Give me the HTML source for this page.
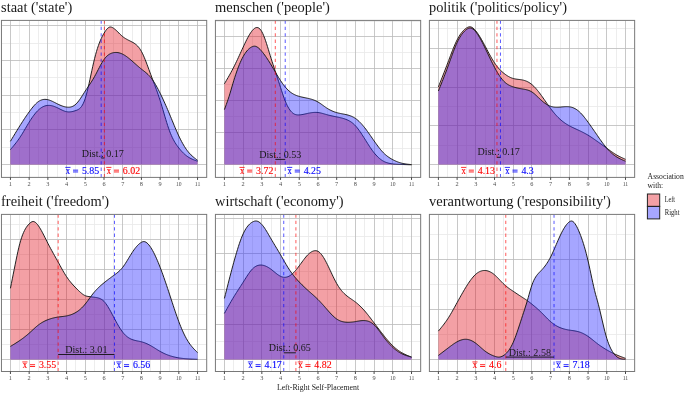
<!DOCTYPE html>
<html><head><meta charset="utf-8"><title>Density plots</title>
<style>
html,body{margin:0;padding:0;background:#fff;}
body{width:685px;height:393px;overflow:hidden;font-family:"Liberation Serif",serif;}
svg{display:block;font-family:"Liberation Serif",serif;will-change:transform;}
.t{font-size:14.6px;fill:#1a1a1a;}
.tk{font-size:6.3px;fill:#4d4d4d;text-anchor:middle;}
.ml{font-size:9.8px;}
.ds{font-size:10.2px;fill:#1a1a1a;text-anchor:middle;}
</style></head><body>
<svg width="685" height="393" viewBox="0 0 685 393">
<rect width="685" height="393" fill="#fff"/>
<g id="staat">
<text class="t" x="1.05" y="12" textLength="71.2" lengthAdjust="spacingAndGlyphs">staat ('state')</text>
<clipPath id="c_staat"><rect x="1.45" y="20.4" width="205.25" height="157"/></clipPath>
<g clip-path="url(#c_staat)">
<path d="M1.45,147.5H206.7M1.45,112.5H206.7M1.45,77.5H206.7M1.45,43.5H206.7M19.5,20.4V177.4M38.5,20.4V177.4M57.5,20.4V177.4M75.5,20.4V177.4M94.5,20.4V177.4M113.5,20.4V177.4M132.5,20.4V177.4M150.5,20.4V177.4M169.5,20.4V177.4M188.5,20.4V177.4" stroke="#e9e9e9" stroke-width="0.8" fill="none"/>
<path d="M1.45,164.5H206.7M1.45,129.5H206.7M1.45,95.5H206.7M1.45,60.5H206.7M1.45,25.5H206.7M10.5,20.4V177.4M29.5,20.4V177.4M47.5,20.4V177.4M66.5,20.4V177.4M85.5,20.4V177.4M104.5,20.4V177.4M122.5,20.4V177.4M141.5,20.4V177.4M160.5,20.4V177.4M178.5,20.4V177.4M197.5,20.4V177.4" stroke="#bababa" stroke-width="0.8" fill="none"/>
<path d="M10.45,149.6 L11.39,148.5 L12.32,147.39 L13.26,146.28 L14.19,145.14 L15.13,143.98 L16.06,142.79 L17,141.56 L17.93,140.29 L18.87,138.97 L19.8,137.6 L20.74,136.17 L21.68,134.69 L22.61,133.16 L23.55,131.61 L24.48,130.03 L25.42,128.45 L26.35,126.86 L27.29,125.29 L28.22,123.73 L29.16,122.2 L30.1,120.71 L31.03,119.27 L31.97,117.87 L32.9,116.53 L33.84,115.25 L34.77,114.03 L35.71,112.88 L36.64,111.81 L37.58,110.81 L38.52,109.9 L39.45,109.08 L40.39,108.34 L41.32,107.69 L42.26,107.12 L43.19,106.64 L44.13,106.23 L45.06,105.91 L46,105.67 L46.93,105.5 L47.87,105.4 L48.81,105.38 L49.74,105.42 L50.68,105.53 L51.61,105.7 L52.55,105.92 L53.48,106.2 L54.42,106.52 L55.35,106.88 L56.29,107.27 L57.23,107.7 L58.16,108.15 L59.1,108.62 L60.03,109.1 L60.97,109.57 L61.9,110.03 L62.84,110.46 L63.77,110.85 L64.71,111.19 L65.64,111.48 L66.58,111.7 L67.52,111.84 L68.45,111.91 L69.39,111.91 L70.32,111.85 L71.26,111.73 L72.19,111.57 L73.13,111.35 L74.06,111.1 L75,110.81 L75.94,110.5 L76.87,110.15 L77.81,109.74 L78.74,109.21 L79.68,108.51 L80.61,107.61 L81.55,106.45 L82.48,104.98 L83.42,103.17 L84.35,100.96 L85.29,98.3 L86.23,95.17 L87.16,91.64 L88.1,87.77 L89.03,83.66 L89.97,79.37 L90.9,75.01 L91.84,70.63 L92.77,66.34 L93.71,62.2 L94.65,58.3 L95.58,54.7 L96.52,51.4 L97.45,48.38 L98.39,45.62 L99.32,43.09 L100.26,40.78 L101.19,38.67 L102.13,36.73 L103.06,34.95 L104,33.3 L104.94,31.77 L105.87,30.4 L106.81,29.2 L107.74,28.23 L108.68,27.52 L109.61,27.1 L110.55,26.99 L111.48,27.16 L112.42,27.55 L113.36,28.1 L114.29,28.77 L115.23,29.53 L116.16,30.36 L117.1,31.25 L118.03,32.17 L118.97,33.1 L119.9,34.03 L120.84,34.94 L121.77,35.8 L122.71,36.6 L123.65,37.33 L124.58,37.98 L125.52,38.58 L126.45,39.12 L127.39,39.63 L128.32,40.12 L129.26,40.59 L130.19,41.05 L131.13,41.52 L132.06,42 L133,42.51 L133.94,43.07 L134.87,43.69 L135.81,44.4 L136.74,45.21 L137.68,46.13 L138.61,47.2 L139.55,48.42 L140.48,49.81 L141.42,51.4 L142.36,53.19 L143.29,55.17 L144.23,57.31 L145.16,59.58 L146.1,61.96 L147.03,64.42 L147.97,66.95 L148.9,69.5 L149.84,72.06 L150.78,74.6 L151.71,77.1 L152.65,79.58 L153.58,82.04 L154.52,84.51 L155.45,87.01 L156.39,89.55 L157.32,92.15 L158.26,94.83 L159.19,97.61 L160.13,100.5 L161.07,103.51 L162,106.62 L162.94,109.79 L163.87,112.99 L164.81,116.18 L165.74,119.33 L166.68,122.4 L167.61,125.36 L168.55,128.17 L169.48,130.8 L170.42,133.22 L171.36,135.45 L172.29,137.49 L173.23,139.37 L174.16,141.09 L175.1,142.68 L176.03,144.15 L176.97,145.51 L177.9,146.79 L178.84,148 L179.78,149.15 L180.71,150.25 L181.65,151.29 L182.58,152.28 L183.52,153.21 L184.45,154.08 L185.39,154.9 L186.32,155.65 L187.26,156.36 L188.19,157 L189.13,157.59 L190.07,158.12 L191,158.61 L191.94,159.05 L192.87,159.46 L193.81,159.85 L194.74,160.21 L195.68,160.55 L196.61,160.88 L197.55,161.2 L197.55,164.6 L10.45,164.6 Z" fill="#E1121E" fill-opacity="0.4" stroke="none"/>
<path d="M10.45,149.6 L11.39,148.5 L12.32,147.39 L13.26,146.28 L14.19,145.14 L15.13,143.98 L16.06,142.79 L17,141.56 L17.93,140.29 L18.87,138.97 L19.8,137.6 L20.74,136.17 L21.68,134.69 L22.61,133.16 L23.55,131.61 L24.48,130.03 L25.42,128.45 L26.35,126.86 L27.29,125.29 L28.22,123.73 L29.16,122.2 L30.1,120.71 L31.03,119.27 L31.97,117.87 L32.9,116.53 L33.84,115.25 L34.77,114.03 L35.71,112.88 L36.64,111.81 L37.58,110.81 L38.52,109.9 L39.45,109.08 L40.39,108.34 L41.32,107.69 L42.26,107.12 L43.19,106.64 L44.13,106.23 L45.06,105.91 L46,105.67 L46.93,105.5 L47.87,105.4 L48.81,105.38 L49.74,105.42 L50.68,105.53 L51.61,105.7 L52.55,105.92 L53.48,106.2 L54.42,106.52 L55.35,106.88 L56.29,107.27 L57.23,107.7 L58.16,108.15 L59.1,108.62 L60.03,109.1 L60.97,109.57 L61.9,110.03 L62.84,110.46 L63.77,110.85 L64.71,111.19 L65.64,111.48 L66.58,111.7 L67.52,111.84 L68.45,111.91 L69.39,111.91 L70.32,111.85 L71.26,111.73 L72.19,111.57 L73.13,111.35 L74.06,111.1 L75,110.81 L75.94,110.5 L76.87,110.15 L77.81,109.74 L78.74,109.21 L79.68,108.51 L80.61,107.61 L81.55,106.45 L82.48,104.98 L83.42,103.17 L84.35,100.96 L85.29,98.3 L86.23,95.17 L87.16,91.64 L88.1,87.77 L89.03,83.66 L89.97,79.37 L90.9,75.01 L91.84,70.63 L92.77,66.34 L93.71,62.2 L94.65,58.3 L95.58,54.7 L96.52,51.4 L97.45,48.38 L98.39,45.62 L99.32,43.09 L100.26,40.78 L101.19,38.67 L102.13,36.73 L103.06,34.95 L104,33.3 L104.94,31.77 L105.87,30.4 L106.81,29.2 L107.74,28.23 L108.68,27.52 L109.61,27.1 L110.55,26.99 L111.48,27.16 L112.42,27.55 L113.36,28.1 L114.29,28.77 L115.23,29.53 L116.16,30.36 L117.1,31.25 L118.03,32.17 L118.97,33.1 L119.9,34.03 L120.84,34.94 L121.77,35.8 L122.71,36.6 L123.65,37.33 L124.58,37.98 L125.52,38.58 L126.45,39.12 L127.39,39.63 L128.32,40.12 L129.26,40.59 L130.19,41.05 L131.13,41.52 L132.06,42 L133,42.51 L133.94,43.07 L134.87,43.69 L135.81,44.4 L136.74,45.21 L137.68,46.13 L138.61,47.2 L139.55,48.42 L140.48,49.81 L141.42,51.4 L142.36,53.19 L143.29,55.17 L144.23,57.31 L145.16,59.58 L146.1,61.96 L147.03,64.42 L147.97,66.95 L148.9,69.5 L149.84,72.06 L150.78,74.6 L151.71,77.1 L152.65,79.58 L153.58,82.04 L154.52,84.51 L155.45,87.01 L156.39,89.55 L157.32,92.15 L158.26,94.83 L159.19,97.61 L160.13,100.5 L161.07,103.51 L162,106.62 L162.94,109.79 L163.87,112.99 L164.81,116.18 L165.74,119.33 L166.68,122.4 L167.61,125.36 L168.55,128.17 L169.48,130.8 L170.42,133.22 L171.36,135.45 L172.29,137.49 L173.23,139.37 L174.16,141.09 L175.1,142.68 L176.03,144.15 L176.97,145.51 L177.9,146.79 L178.84,148 L179.78,149.15 L180.71,150.25 L181.65,151.29 L182.58,152.28 L183.52,153.21 L184.45,154.08 L185.39,154.9 L186.32,155.65 L187.26,156.36 L188.19,157 L189.13,157.59 L190.07,158.12 L191,158.61 L191.94,159.05 L192.87,159.46 L193.81,159.85 L194.74,160.21 L195.68,160.55 L196.61,160.88 L197.55,161.2" fill="none" stroke="#161616" stroke-width="0.95" stroke-linejoin="round"/>
<path d="M10.45,141.3 L11.39,139.74 L12.32,138.17 L13.26,136.61 L14.19,135.06 L15.13,133.51 L16.06,131.96 L17,130.43 L17.93,128.91 L18.87,127.4 L19.8,125.9 L20.74,124.42 L21.68,122.95 L22.61,121.5 L23.55,120.07 L24.48,118.66 L25.42,117.26 L26.35,115.89 L27.29,114.54 L28.22,113.21 L29.16,111.9 L30.1,110.62 L31.03,109.37 L31.97,108.15 L32.9,106.99 L33.84,105.89 L34.77,104.85 L35.71,103.88 L36.64,102.99 L37.58,102.2 L38.52,101.5 L39.45,100.91 L40.39,100.42 L41.32,100.03 L42.26,99.73 L43.19,99.52 L44.13,99.4 L45.06,99.36 L46,99.4 L46.93,99.52 L47.87,99.7 L48.81,99.95 L49.74,100.25 L50.68,100.61 L51.61,101 L52.55,101.43 L53.48,101.89 L54.42,102.36 L55.35,102.84 L56.29,103.32 L57.23,103.8 L58.16,104.26 L59.1,104.7 L60.03,105.12 L60.97,105.52 L61.9,105.88 L62.84,106.21 L63.77,106.5 L64.71,106.75 L65.64,106.95 L66.58,107.1 L67.52,107.2 L68.45,107.23 L69.39,107.19 L70.32,107.07 L71.26,106.85 L72.19,106.54 L73.13,106.12 L74.06,105.58 L75,104.91 L75.94,104.1 L76.87,103.15 L77.81,102.07 L78.74,100.89 L79.68,99.6 L80.61,98.25 L81.55,96.84 L82.48,95.39 L83.42,93.92 L84.35,92.45 L85.29,91 L86.23,89.58 L87.16,88.18 L88.1,86.79 L89.03,85.4 L89.97,83.99 L90.9,82.57 L91.84,81.11 L92.77,79.6 L93.71,78.04 L94.65,76.4 L95.58,74.69 L96.52,72.92 L97.45,71.11 L98.39,69.3 L99.32,67.5 L100.26,65.73 L101.19,64.02 L102.13,62.4 L103.06,60.89 L104,59.5 L104.94,58.26 L105.87,57.17 L106.81,56.22 L107.74,55.39 L108.68,54.69 L109.61,54.1 L110.55,53.61 L111.48,53.22 L112.42,52.92 L113.36,52.7 L114.29,52.55 L115.23,52.47 L116.16,52.46 L117.1,52.51 L118.03,52.64 L118.97,52.82 L119.9,53.07 L120.84,53.39 L121.77,53.76 L122.71,54.2 L123.65,54.69 L124.58,55.24 L125.52,55.84 L126.45,56.48 L127.39,57.16 L128.32,57.88 L129.26,58.63 L130.19,59.4 L131.13,60.19 L132.06,61 L133,61.82 L133.94,62.65 L134.87,63.48 L135.81,64.31 L136.74,65.13 L137.68,65.96 L138.61,66.77 L139.55,67.56 L140.48,68.34 L141.42,69.1 L142.36,69.84 L143.29,70.56 L144.23,71.29 L145.16,72.03 L146.1,72.8 L147.03,73.61 L147.97,74.47 L148.9,75.4 L149.84,76.4 L150.78,77.5 L151.71,78.7 L152.65,80 L153.58,81.39 L154.52,82.87 L155.45,84.42 L156.39,86.05 L157.32,87.75 L158.26,89.52 L159.19,91.33 L160.13,93.2 L161.07,95.11 L162,97.07 L162.94,99.06 L163.87,101.09 L164.81,103.16 L165.74,105.27 L166.68,107.4 L167.61,109.57 L168.55,111.77 L169.48,114 L170.42,116.25 L171.36,118.52 L172.29,120.79 L173.23,123.06 L174.16,125.32 L175.1,127.55 L176.03,129.74 L176.97,131.89 L177.9,133.98 L178.84,136 L179.78,137.95 L180.71,139.82 L181.65,141.61 L182.58,143.32 L183.52,144.95 L184.45,146.49 L185.39,147.95 L186.32,149.32 L187.26,150.6 L188.19,151.8 L189.13,152.91 L190.07,153.93 L191,154.89 L191.94,155.78 L192.87,156.61 L193.81,157.41 L194.74,158.16 L195.68,158.89 L196.61,159.6 L197.55,160.3 L197.55,164.6 L10.45,164.6 Z" fill="#2B2BFF" fill-opacity="0.42" stroke="none"/>
<path d="M10.45,141.3 L11.39,139.74 L12.32,138.17 L13.26,136.61 L14.19,135.06 L15.13,133.51 L16.06,131.96 L17,130.43 L17.93,128.91 L18.87,127.4 L19.8,125.9 L20.74,124.42 L21.68,122.95 L22.61,121.5 L23.55,120.07 L24.48,118.66 L25.42,117.26 L26.35,115.89 L27.29,114.54 L28.22,113.21 L29.16,111.9 L30.1,110.62 L31.03,109.37 L31.97,108.15 L32.9,106.99 L33.84,105.89 L34.77,104.85 L35.71,103.88 L36.64,102.99 L37.58,102.2 L38.52,101.5 L39.45,100.91 L40.39,100.42 L41.32,100.03 L42.26,99.73 L43.19,99.52 L44.13,99.4 L45.06,99.36 L46,99.4 L46.93,99.52 L47.87,99.7 L48.81,99.95 L49.74,100.25 L50.68,100.61 L51.61,101 L52.55,101.43 L53.48,101.89 L54.42,102.36 L55.35,102.84 L56.29,103.32 L57.23,103.8 L58.16,104.26 L59.1,104.7 L60.03,105.12 L60.97,105.52 L61.9,105.88 L62.84,106.21 L63.77,106.5 L64.71,106.75 L65.64,106.95 L66.58,107.1 L67.52,107.2 L68.45,107.23 L69.39,107.19 L70.32,107.07 L71.26,106.85 L72.19,106.54 L73.13,106.12 L74.06,105.58 L75,104.91 L75.94,104.1 L76.87,103.15 L77.81,102.07 L78.74,100.89 L79.68,99.6 L80.61,98.25 L81.55,96.84 L82.48,95.39 L83.42,93.92 L84.35,92.45 L85.29,91 L86.23,89.58 L87.16,88.18 L88.1,86.79 L89.03,85.4 L89.97,83.99 L90.9,82.57 L91.84,81.11 L92.77,79.6 L93.71,78.04 L94.65,76.4 L95.58,74.69 L96.52,72.92 L97.45,71.11 L98.39,69.3 L99.32,67.5 L100.26,65.73 L101.19,64.02 L102.13,62.4 L103.06,60.89 L104,59.5 L104.94,58.26 L105.87,57.17 L106.81,56.22 L107.74,55.39 L108.68,54.69 L109.61,54.1 L110.55,53.61 L111.48,53.22 L112.42,52.92 L113.36,52.7 L114.29,52.55 L115.23,52.47 L116.16,52.46 L117.1,52.51 L118.03,52.64 L118.97,52.82 L119.9,53.07 L120.84,53.39 L121.77,53.76 L122.71,54.2 L123.65,54.69 L124.58,55.24 L125.52,55.84 L126.45,56.48 L127.39,57.16 L128.32,57.88 L129.26,58.63 L130.19,59.4 L131.13,60.19 L132.06,61 L133,61.82 L133.94,62.65 L134.87,63.48 L135.81,64.31 L136.74,65.13 L137.68,65.96 L138.61,66.77 L139.55,67.56 L140.48,68.34 L141.42,69.1 L142.36,69.84 L143.29,70.56 L144.23,71.29 L145.16,72.03 L146.1,72.8 L147.03,73.61 L147.97,74.47 L148.9,75.4 L149.84,76.4 L150.78,77.5 L151.71,78.7 L152.65,80 L153.58,81.39 L154.52,82.87 L155.45,84.42 L156.39,86.05 L157.32,87.75 L158.26,89.52 L159.19,91.33 L160.13,93.2 L161.07,95.11 L162,97.07 L162.94,99.06 L163.87,101.09 L164.81,103.16 L165.74,105.27 L166.68,107.4 L167.61,109.57 L168.55,111.77 L169.48,114 L170.42,116.25 L171.36,118.52 L172.29,120.79 L173.23,123.06 L174.16,125.32 L175.1,127.55 L176.03,129.74 L176.97,131.89 L177.9,133.98 L178.84,136 L179.78,137.95 L180.71,139.82 L181.65,141.61 L182.58,143.32 L183.52,144.95 L184.45,146.49 L185.39,147.95 L186.32,149.32 L187.26,150.6 L188.19,151.8 L189.13,152.91 L190.07,153.93 L191,154.89 L191.94,155.78 L192.87,156.61 L193.81,157.41 L194.74,158.16 L195.68,158.89 L196.61,159.6 L197.55,160.3" fill="none" stroke="#161616" stroke-width="0.95" stroke-linejoin="round"/>
<path d="M104.37,20.4V177.4" stroke="#FF0000" stroke-opacity="0.62" stroke-width="1.05" stroke-dasharray="3.3 3.1" fill="none"/>
<path d="M101.19,20.4V177.4" stroke="#0000FF" stroke-opacity="0.62" stroke-width="1.05" stroke-dasharray="3.3 3.1" fill="none"/>
<path d="M101.19,158H104.37" stroke="#111" stroke-width="0.9" fill="none"/>
<text class="ds" x="102.78" y="156.6" textLength="42.2" lengthAdjust="spacingAndGlyphs">Dist.: 0.17</text>
<g fill="#0000FF" stroke="#0000FF"><text x="65.77" y="173.5" font-size="9.3px" stroke-width="0.12" textLength="4.3" lengthAdjust="spacingAndGlyphs">x</text><path d="M65.32,167.4h5.2" stroke-width="0.8" fill="none"/><path d="M73.02,170.15h5.1M73.02,171.95h5.1" stroke-width="0.85" fill="none"/><text x="81.92" y="173.5" font-size="10.4px" stroke-width="0.12" textLength="17.35" lengthAdjust="spacingAndGlyphs">5.85</text></g>
<g fill="#FF0000" stroke="#FF0000"><text x="106.65" y="173.5" font-size="9.3px" stroke-width="0.12" textLength="4.3" lengthAdjust="spacingAndGlyphs">x</text><path d="M106.2,167.4h5.2" stroke-width="0.8" fill="none"/><path d="M113.9,170.15h5.1M113.9,171.95h5.1" stroke-width="0.85" fill="none"/><text x="122.8" y="173.5" font-size="10.4px" stroke-width="0.12" textLength="17.35" lengthAdjust="spacingAndGlyphs">6.02</text></g>
</g>
<rect x="1.45" y="20.4" width="205.25" height="157" fill="none" stroke="#787878" stroke-width="1"/>
<path d="M10.45,177.4v2.5M29.16,177.4v2.5M47.87,177.4v2.5M66.58,177.4v2.5M85.29,177.4v2.5M104,177.4v2.5M122.71,177.4v2.5M141.42,177.4v2.5M160.13,177.4v2.5M178.84,177.4v2.5M197.55,177.4v2.5" stroke="#333" stroke-width="0.9" fill="none"/>
<text class="tk" x="10.45" y="185.8">1</text>
<text class="tk" x="29.16" y="185.8">2</text>
<text class="tk" x="47.87" y="185.8">3</text>
<text class="tk" x="66.58" y="185.8">4</text>
<text class="tk" x="85.29" y="185.8">5</text>
<text class="tk" x="104" y="185.8">6</text>
<text class="tk" x="122.71" y="185.8">7</text>
<text class="tk" x="141.42" y="185.8">8</text>
<text class="tk" x="160.13" y="185.8">9</text>
<text class="tk" x="178.84" y="185.8" textLength="5.6" lengthAdjust="spacingAndGlyphs">10</text>
<text class="tk" x="197.55" y="185.8" textLength="5.6" lengthAdjust="spacingAndGlyphs">11</text>
</g>
<g id="menschen">
<text class="t" x="215.02" y="12" textLength="114.9" lengthAdjust="spacingAndGlyphs">menschen ('people')</text>
<clipPath id="c_menschen"><rect x="215.42" y="20.4" width="205.25" height="157"/></clipPath>
<g clip-path="url(#c_menschen)">
<path d="M215.42,148.5H420.67M215.42,116.5H420.67M215.42,84.5H420.67M215.42,52.5H420.67M215.42,21.5H420.67M233.5,20.4V177.4M252.5,20.4V177.4M271.5,20.4V177.4M289.5,20.4V177.4M308.5,20.4V177.4M327.5,20.4V177.4M346.5,20.4V177.4M364.5,20.4V177.4M383.5,20.4V177.4M402.5,20.4V177.4" stroke="#e9e9e9" stroke-width="0.8" fill="none"/>
<path d="M215.42,164.5H420.67M215.42,132.5H420.67M215.42,100.5H420.67M215.42,68.5H420.67M215.42,36.5H420.67M224.5,20.4V177.4M243.5,20.4V177.4M261.5,20.4V177.4M280.5,20.4V177.4M299.5,20.4V177.4M317.5,20.4V177.4M336.5,20.4V177.4M355.5,20.4V177.4M374.5,20.4V177.4M392.5,20.4V177.4M411.5,20.4V177.4" stroke="#bababa" stroke-width="0.8" fill="none"/>
<path d="M224.42,83.8 L225.36,82.22 L226.29,80.63 L227.23,79.03 L228.16,77.41 L229.1,75.77 L230.03,74.11 L230.97,72.42 L231.9,70.69 L232.84,68.92 L233.77,67.1 L234.71,65.23 L235.65,63.32 L236.58,61.37 L237.52,59.39 L238.45,57.38 L239.39,55.36 L240.32,53.32 L241.26,51.28 L242.19,49.23 L243.13,47.2 L244.07,45.18 L245,43.2 L245.94,41.26 L246.87,39.38 L247.81,37.58 L248.74,35.87 L249.68,34.27 L250.61,32.8 L251.55,31.47 L252.48,30.3 L253.42,29.3 L254.36,28.5 L255.29,27.92 L256.23,27.58 L257.16,27.5 L258.1,27.71 L259.03,28.22 L259.97,29.05 L260.9,30.2 L261.84,31.7 L262.78,33.54 L263.71,35.69 L264.65,38.11 L265.58,40.75 L266.52,43.56 L267.45,46.5 L268.39,49.54 L269.32,52.61 L270.26,55.68 L271.19,58.7 L272.13,61.64 L273.07,64.52 L274,67.36 L274.94,70.2 L275.87,73.05 L276.81,75.93 L277.74,78.81 L278.68,81.71 L279.61,84.6 L280.55,87.5 L281.49,90.38 L282.42,93.22 L283.36,95.96 L284.29,98.57 L285.23,101 L286.16,103.22 L287.1,105.22 L288.03,107.02 L288.97,108.61 L289.9,110 L290.84,111.2 L291.78,112.2 L292.71,113.03 L293.65,113.7 L294.58,114.2 L295.52,114.55 L296.45,114.78 L297.39,114.9 L298.32,114.93 L299.26,114.9 L300.2,114.83 L301.13,114.71 L302.07,114.57 L303,114.41 L303.94,114.22 L304.87,114.02 L305.81,113.82 L306.74,113.61 L307.68,113.4 L308.62,113.2 L309.55,113.02 L310.49,112.85 L311.42,112.7 L312.36,112.58 L313.29,112.48 L314.23,112.41 L315.16,112.38 L316.1,112.38 L317.03,112.42 L317.97,112.5 L318.91,112.63 L319.84,112.79 L320.78,112.99 L321.71,113.21 L322.65,113.46 L323.58,113.72 L324.52,113.99 L325.45,114.27 L326.39,114.54 L327.32,114.8 L328.26,115.05 L329.2,115.29 L330.13,115.51 L331.07,115.73 L332,115.93 L332.94,116.13 L333.87,116.33 L334.81,116.52 L335.74,116.71 L336.68,116.9 L337.62,117.09 L338.55,117.29 L339.49,117.49 L340.42,117.71 L341.36,117.93 L342.29,118.18 L343.23,118.45 L344.16,118.74 L345.1,119.05 L346.03,119.4 L346.97,119.78 L347.91,120.2 L348.84,120.66 L349.78,121.18 L350.71,121.75 L351.65,122.39 L352.58,123.1 L353.52,123.88 L354.45,124.75 L355.39,125.7 L356.33,126.75 L357.26,127.88 L358.2,129.08 L359.13,130.36 L360.07,131.69 L361,133.07 L361.94,134.49 L362.87,135.94 L363.81,137.41 L364.75,138.9 L365.68,140.39 L366.62,141.88 L367.55,143.35 L368.49,144.81 L369.42,146.25 L370.36,147.65 L371.29,149.01 L372.23,150.33 L373.16,151.6 L374.1,152.8 L375.04,153.94 L375.97,155.01 L376.91,156.02 L377.84,156.95 L378.78,157.83 L379.71,158.63 L380.65,159.37 L381.58,160.05 L382.52,160.66 L383.45,161.2 L384.39,161.68 L385.33,162.1 L386.26,162.46 L387.2,162.78 L388.13,163.05 L389.07,163.28 L390,163.48 L390.94,163.64 L391.87,163.78 L392.81,163.9 L393.75,164 L394.68,164.09 L395.62,164.17 L396.55,164.24 L397.49,164.3 L398.42,164.35 L399.36,164.39 L400.29,164.43 L401.23,164.47 L402.16,164.5 L403.1,164.53 L404.04,164.56 L404.97,164.59 L405.91,164.62 L406.84,164.65 L407.78,164.68 L408.71,164.71 L409.65,164.74 L410.58,164.77 L411.52,164.8 L411.52,164.6 L224.42,164.6 Z" fill="#E1121E" fill-opacity="0.4" stroke="none"/>
<path d="M224.42,83.8 L225.36,82.22 L226.29,80.63 L227.23,79.03 L228.16,77.41 L229.1,75.77 L230.03,74.11 L230.97,72.42 L231.9,70.69 L232.84,68.92 L233.77,67.1 L234.71,65.23 L235.65,63.32 L236.58,61.37 L237.52,59.39 L238.45,57.38 L239.39,55.36 L240.32,53.32 L241.26,51.28 L242.19,49.23 L243.13,47.2 L244.07,45.18 L245,43.2 L245.94,41.26 L246.87,39.38 L247.81,37.58 L248.74,35.87 L249.68,34.27 L250.61,32.8 L251.55,31.47 L252.48,30.3 L253.42,29.3 L254.36,28.5 L255.29,27.92 L256.23,27.58 L257.16,27.5 L258.1,27.71 L259.03,28.22 L259.97,29.05 L260.9,30.2 L261.84,31.7 L262.78,33.54 L263.71,35.69 L264.65,38.11 L265.58,40.75 L266.52,43.56 L267.45,46.5 L268.39,49.54 L269.32,52.61 L270.26,55.68 L271.19,58.7 L272.13,61.64 L273.07,64.52 L274,67.36 L274.94,70.2 L275.87,73.05 L276.81,75.93 L277.74,78.81 L278.68,81.71 L279.61,84.6 L280.55,87.5 L281.49,90.38 L282.42,93.22 L283.36,95.96 L284.29,98.57 L285.23,101 L286.16,103.22 L287.1,105.22 L288.03,107.02 L288.97,108.61 L289.9,110 L290.84,111.2 L291.78,112.2 L292.71,113.03 L293.65,113.7 L294.58,114.2 L295.52,114.55 L296.45,114.78 L297.39,114.9 L298.32,114.93 L299.26,114.9 L300.2,114.83 L301.13,114.71 L302.07,114.57 L303,114.41 L303.94,114.22 L304.87,114.02 L305.81,113.82 L306.74,113.61 L307.68,113.4 L308.62,113.2 L309.55,113.02 L310.49,112.85 L311.42,112.7 L312.36,112.58 L313.29,112.48 L314.23,112.41 L315.16,112.38 L316.1,112.38 L317.03,112.42 L317.97,112.5 L318.91,112.63 L319.84,112.79 L320.78,112.99 L321.71,113.21 L322.65,113.46 L323.58,113.72 L324.52,113.99 L325.45,114.27 L326.39,114.54 L327.32,114.8 L328.26,115.05 L329.2,115.29 L330.13,115.51 L331.07,115.73 L332,115.93 L332.94,116.13 L333.87,116.33 L334.81,116.52 L335.74,116.71 L336.68,116.9 L337.62,117.09 L338.55,117.29 L339.49,117.49 L340.42,117.71 L341.36,117.93 L342.29,118.18 L343.23,118.45 L344.16,118.74 L345.1,119.05 L346.03,119.4 L346.97,119.78 L347.91,120.2 L348.84,120.66 L349.78,121.18 L350.71,121.75 L351.65,122.39 L352.58,123.1 L353.52,123.88 L354.45,124.75 L355.39,125.7 L356.33,126.75 L357.26,127.88 L358.2,129.08 L359.13,130.36 L360.07,131.69 L361,133.07 L361.94,134.49 L362.87,135.94 L363.81,137.41 L364.75,138.9 L365.68,140.39 L366.62,141.88 L367.55,143.35 L368.49,144.81 L369.42,146.25 L370.36,147.65 L371.29,149.01 L372.23,150.33 L373.16,151.6 L374.1,152.8 L375.04,153.94 L375.97,155.01 L376.91,156.02 L377.84,156.95 L378.78,157.83 L379.71,158.63 L380.65,159.37 L381.58,160.05 L382.52,160.66 L383.45,161.2 L384.39,161.68 L385.33,162.1 L386.26,162.46 L387.2,162.78 L388.13,163.05 L389.07,163.28 L390,163.48 L390.94,163.64 L391.87,163.78 L392.81,163.9 L393.75,164 L394.68,164.09 L395.62,164.17 L396.55,164.24 L397.49,164.3 L398.42,164.35 L399.36,164.39 L400.29,164.43 L401.23,164.47 L402.16,164.5 L403.1,164.53 L404.04,164.56 L404.97,164.59 L405.91,164.62 L406.84,164.65 L407.78,164.68 L408.71,164.71 L409.65,164.74 L410.58,164.77 L411.52,164.8" fill="none" stroke="#161616" stroke-width="0.95" stroke-linejoin="round"/>
<path d="M224.42,109.6 L225.36,107.08 L226.29,104.53 L227.23,101.9 L228.16,99.17 L229.1,96.3 L230.03,93.27 L230.97,90.12 L231.9,86.92 L232.84,83.73 L233.77,80.6 L234.71,77.59 L235.65,74.71 L236.58,71.97 L237.52,69.35 L238.45,66.88 L239.39,64.54 L240.32,62.34 L241.26,60.28 L242.19,58.37 L243.13,56.6 L244.07,54.98 L245,53.51 L245.94,52.17 L246.87,50.98 L247.81,49.92 L248.74,49 L249.68,48.21 L250.61,47.55 L251.55,47.01 L252.48,46.6 L253.42,46.31 L254.36,46.18 L255.29,46.25 L256.23,46.53 L257.16,47 L258.1,47.63 L259.03,48.41 L259.97,49.31 L260.9,50.32 L261.84,51.4 L262.78,52.55 L263.71,53.75 L264.65,55 L265.58,56.3 L266.52,57.65 L267.45,59.05 L268.39,60.48 L269.32,61.95 L270.26,63.46 L271.19,65 L272.13,66.57 L273.07,68.16 L274,69.76 L274.94,71.36 L275.87,72.96 L276.81,74.55 L277.74,76.12 L278.68,77.65 L279.61,79.15 L280.55,80.6 L281.49,81.99 L282.42,83.33 L283.36,84.61 L284.29,85.82 L285.23,86.97 L286.16,88.06 L287.1,89.08 L288.03,90.02 L288.97,90.9 L289.9,91.7 L290.84,92.43 L291.78,93.08 L292.71,93.67 L293.65,94.2 L294.58,94.67 L295.52,95.1 L296.45,95.48 L297.39,95.82 L298.32,96.12 L299.26,96.4 L300.2,96.65 L301.13,96.89 L302.07,97.1 L303,97.31 L303.94,97.51 L304.87,97.7 L305.81,97.89 L306.74,98.09 L307.68,98.29 L308.62,98.5 L309.55,98.73 L310.49,98.97 L311.42,99.24 L312.36,99.53 L313.29,99.85 L314.23,100.2 L315.16,100.59 L316.1,101.02 L317.03,101.48 L317.97,102 L318.91,102.56 L319.84,103.17 L320.78,103.8 L321.71,104.46 L322.65,105.13 L323.58,105.81 L324.52,106.48 L325.45,107.15 L326.39,107.79 L327.32,108.4 L328.26,108.98 L329.2,109.51 L330.13,110.01 L331.07,110.48 L332,110.91 L332.94,111.31 L333.87,111.68 L334.81,112.02 L335.74,112.32 L336.68,112.6 L337.62,112.85 L338.55,113.08 L339.49,113.29 L340.42,113.48 L341.36,113.67 L342.29,113.85 L343.23,114.03 L344.16,114.21 L345.1,114.4 L346.03,114.6 L346.97,114.82 L347.91,115.06 L348.84,115.33 L349.78,115.62 L350.71,115.96 L351.65,116.34 L352.58,116.77 L353.52,117.25 L354.45,117.79 L355.39,118.4 L356.33,119.07 L357.26,119.81 L358.2,120.62 L359.13,121.48 L360.07,122.41 L361,123.39 L361.94,124.42 L362.87,125.5 L363.81,126.63 L364.75,127.8 L365.68,129.01 L366.62,130.26 L367.55,131.54 L368.49,132.84 L369.42,134.17 L370.36,135.51 L371.29,136.85 L372.23,138.21 L373.16,139.56 L374.1,140.9 L375.04,142.23 L375.97,143.55 L376.91,144.84 L377.84,146.1 L378.78,147.33 L379.71,148.53 L380.65,149.67 L381.58,150.77 L382.52,151.82 L383.45,152.8 L384.39,153.72 L385.33,154.58 L386.26,155.38 L387.2,156.13 L388.13,156.82 L389.07,157.47 L390,158.08 L390.94,158.66 L391.87,159.19 L392.81,159.7 L393.75,160.18 L394.68,160.63 L395.62,161.06 L396.55,161.46 L397.49,161.84 L398.42,162.19 L399.36,162.51 L400.29,162.8 L401.23,163.06 L402.16,163.3 L403.1,163.51 L404.04,163.69 L404.97,163.86 L405.91,164 L406.84,164.12 L407.78,164.24 L408.71,164.34 L409.65,164.43 L410.58,164.52 L411.52,164.6 L411.52,164.6 L224.42,164.6 Z" fill="#2B2BFF" fill-opacity="0.42" stroke="none"/>
<path d="M224.42,109.6 L225.36,107.08 L226.29,104.53 L227.23,101.9 L228.16,99.17 L229.1,96.3 L230.03,93.27 L230.97,90.12 L231.9,86.92 L232.84,83.73 L233.77,80.6 L234.71,77.59 L235.65,74.71 L236.58,71.97 L237.52,69.35 L238.45,66.88 L239.39,64.54 L240.32,62.34 L241.26,60.28 L242.19,58.37 L243.13,56.6 L244.07,54.98 L245,53.51 L245.94,52.17 L246.87,50.98 L247.81,49.92 L248.74,49 L249.68,48.21 L250.61,47.55 L251.55,47.01 L252.48,46.6 L253.42,46.31 L254.36,46.18 L255.29,46.25 L256.23,46.53 L257.16,47 L258.1,47.63 L259.03,48.41 L259.97,49.31 L260.9,50.32 L261.84,51.4 L262.78,52.55 L263.71,53.75 L264.65,55 L265.58,56.3 L266.52,57.65 L267.45,59.05 L268.39,60.48 L269.32,61.95 L270.26,63.46 L271.19,65 L272.13,66.57 L273.07,68.16 L274,69.76 L274.94,71.36 L275.87,72.96 L276.81,74.55 L277.74,76.12 L278.68,77.65 L279.61,79.15 L280.55,80.6 L281.49,81.99 L282.42,83.33 L283.36,84.61 L284.29,85.82 L285.23,86.97 L286.16,88.06 L287.1,89.08 L288.03,90.02 L288.97,90.9 L289.9,91.7 L290.84,92.43 L291.78,93.08 L292.71,93.67 L293.65,94.2 L294.58,94.67 L295.52,95.1 L296.45,95.48 L297.39,95.82 L298.32,96.12 L299.26,96.4 L300.2,96.65 L301.13,96.89 L302.07,97.1 L303,97.31 L303.94,97.51 L304.87,97.7 L305.81,97.89 L306.74,98.09 L307.68,98.29 L308.62,98.5 L309.55,98.73 L310.49,98.97 L311.42,99.24 L312.36,99.53 L313.29,99.85 L314.23,100.2 L315.16,100.59 L316.1,101.02 L317.03,101.48 L317.97,102 L318.91,102.56 L319.84,103.17 L320.78,103.8 L321.71,104.46 L322.65,105.13 L323.58,105.81 L324.52,106.48 L325.45,107.15 L326.39,107.79 L327.32,108.4 L328.26,108.98 L329.2,109.51 L330.13,110.01 L331.07,110.48 L332,110.91 L332.94,111.31 L333.87,111.68 L334.81,112.02 L335.74,112.32 L336.68,112.6 L337.62,112.85 L338.55,113.08 L339.49,113.29 L340.42,113.48 L341.36,113.67 L342.29,113.85 L343.23,114.03 L344.16,114.21 L345.1,114.4 L346.03,114.6 L346.97,114.82 L347.91,115.06 L348.84,115.33 L349.78,115.62 L350.71,115.96 L351.65,116.34 L352.58,116.77 L353.52,117.25 L354.45,117.79 L355.39,118.4 L356.33,119.07 L357.26,119.81 L358.2,120.62 L359.13,121.48 L360.07,122.41 L361,123.39 L361.94,124.42 L362.87,125.5 L363.81,126.63 L364.75,127.8 L365.68,129.01 L366.62,130.26 L367.55,131.54 L368.49,132.84 L369.42,134.17 L370.36,135.51 L371.29,136.85 L372.23,138.21 L373.16,139.56 L374.1,140.9 L375.04,142.23 L375.97,143.55 L376.91,144.84 L377.84,146.1 L378.78,147.33 L379.71,148.53 L380.65,149.67 L381.58,150.77 L382.52,151.82 L383.45,152.8 L384.39,153.72 L385.33,154.58 L386.26,155.38 L387.2,156.13 L388.13,156.82 L389.07,157.47 L390,158.08 L390.94,158.66 L391.87,159.19 L392.81,159.7 L393.75,160.18 L394.68,160.63 L395.62,161.06 L396.55,161.46 L397.49,161.84 L398.42,162.19 L399.36,162.51 L400.29,162.8 L401.23,163.06 L402.16,163.3 L403.1,163.51 L404.04,163.69 L404.97,163.86 L405.91,164 L406.84,164.12 L407.78,164.24 L408.71,164.34 L409.65,164.43 L410.58,164.52 L411.52,164.6" fill="none" stroke="#161616" stroke-width="0.95" stroke-linejoin="round"/>
<path d="M275.31,20.4V177.4" stroke="#FF0000" stroke-opacity="0.62" stroke-width="1.05" stroke-dasharray="3.3 3.1" fill="none"/>
<path d="M285.23,20.4V177.4" stroke="#0000FF" stroke-opacity="0.62" stroke-width="1.05" stroke-dasharray="3.3 3.1" fill="none"/>
<path d="M275.31,159.4H285.23" stroke="#111" stroke-width="0.9" fill="none"/>
<text class="ds" x="280.27" y="157.8" textLength="42.2" lengthAdjust="spacingAndGlyphs">Dist.: 0.53</text>
<g fill="#FF0000" stroke="#FF0000"><text x="239.89" y="173.5" font-size="9.3px" stroke-width="0.12" textLength="4.3" lengthAdjust="spacingAndGlyphs">x</text><path d="M239.44,167.4h5.2" stroke-width="0.8" fill="none"/><path d="M247.14,170.15h5.1M247.14,171.95h5.1" stroke-width="0.85" fill="none"/><text x="256.04" y="173.5" font-size="10.4px" stroke-width="0.12" textLength="17.35" lengthAdjust="spacingAndGlyphs">3.72</text></g>
<g fill="#0000FF" stroke="#0000FF"><text x="287.5" y="173.5" font-size="9.3px" stroke-width="0.12" textLength="4.3" lengthAdjust="spacingAndGlyphs">x</text><path d="M287.05,167.4h5.2" stroke-width="0.8" fill="none"/><path d="M294.75,170.15h5.1M294.75,171.95h5.1" stroke-width="0.85" fill="none"/><text x="303.65" y="173.5" font-size="10.4px" stroke-width="0.12" textLength="17.35" lengthAdjust="spacingAndGlyphs">4.25</text></g>
</g>
<rect x="215.42" y="20.4" width="205.25" height="157" fill="none" stroke="#787878" stroke-width="1"/>
<path d="M224.42,177.4v2.5M243.13,177.4v2.5M261.84,177.4v2.5M280.55,177.4v2.5M299.26,177.4v2.5M317.97,177.4v2.5M336.68,177.4v2.5M355.39,177.4v2.5M374.1,177.4v2.5M392.81,177.4v2.5M411.52,177.4v2.5" stroke="#333" stroke-width="0.9" fill="none"/>
<text class="tk" x="224.42" y="185.8">1</text>
<text class="tk" x="243.13" y="185.8">2</text>
<text class="tk" x="261.84" y="185.8">3</text>
<text class="tk" x="280.55" y="185.8">4</text>
<text class="tk" x="299.26" y="185.8">5</text>
<text class="tk" x="317.97" y="185.8">6</text>
<text class="tk" x="336.68" y="185.8">7</text>
<text class="tk" x="355.39" y="185.8">8</text>
<text class="tk" x="374.1" y="185.8">9</text>
<text class="tk" x="392.81" y="185.8" textLength="5.6" lengthAdjust="spacingAndGlyphs">10</text>
<text class="tk" x="411.52" y="185.8" textLength="5.6" lengthAdjust="spacingAndGlyphs">11</text>
</g>
<g id="politik">
<text class="t" x="429" y="12" textLength="138" lengthAdjust="spacingAndGlyphs">politik ('politics/policy')</text>
<clipPath id="c_politik"><rect x="429.4" y="20.4" width="205.25" height="157"/></clipPath>
<g clip-path="url(#c_politik)">
<path d="M429.4,145.5H634.65M429.4,106.5H634.65M429.4,67.5H634.65M429.4,28.5H634.65M447.5,20.4V177.4M466.5,20.4V177.4M485.5,20.4V177.4M503.5,20.4V177.4M522.5,20.4V177.4M541.5,20.4V177.4M560.5,20.4V177.4M578.5,20.4V177.4M597.5,20.4V177.4M616.5,20.4V177.4" stroke="#e9e9e9" stroke-width="0.8" fill="none"/>
<path d="M429.4,164.5H634.65M429.4,125.5H634.65M429.4,87.5H634.65M429.4,48.5H634.65M438.5,20.4V177.4M457.5,20.4V177.4M475.5,20.4V177.4M494.5,20.4V177.4M513.5,20.4V177.4M531.5,20.4V177.4M550.5,20.4V177.4M569.5,20.4V177.4M588.5,20.4V177.4M606.5,20.4V177.4M625.5,20.4V177.4" stroke="#bababa" stroke-width="0.8" fill="none"/>
<path d="M438.4,86.9 L439.34,84.54 L440.27,82.17 L441.21,79.8 L442.14,77.42 L443.08,75.03 L444.01,72.64 L444.95,70.23 L445.88,67.8 L446.82,65.36 L447.75,62.9 L448.69,60.42 L449.63,57.94 L450.56,55.46 L451.5,53.02 L452.43,50.62 L453.37,48.29 L454.3,46.03 L455.24,43.87 L456.17,41.82 L457.11,39.9 L458.05,38.12 L458.98,36.49 L459.92,34.99 L460.85,33.62 L461.79,32.39 L462.72,31.28 L463.66,30.29 L464.59,29.41 L465.53,28.65 L466.46,28 L467.4,27.46 L468.34,27.05 L469.27,26.82 L470.21,26.8 L471.14,27.01 L472.08,27.44 L473.01,28.06 L473.95,28.86 L474.88,29.82 L475.82,30.9 L476.76,32.09 L477.69,33.39 L478.63,34.77 L479.56,36.24 L480.5,37.77 L481.43,39.37 L482.37,41.02 L483.3,42.72 L484.24,44.45 L485.17,46.2 L486.11,47.97 L487.05,49.75 L487.98,51.52 L488.92,53.27 L489.85,55 L490.79,56.69 L491.72,58.34 L492.66,59.93 L493.59,61.45 L494.53,62.9 L495.47,64.26 L496.4,65.54 L497.34,66.74 L498.27,67.86 L499.21,68.91 L500.14,69.9 L501.08,70.83 L502.01,71.7 L502.95,72.53 L503.88,73.3 L504.82,74.03 L505.76,74.72 L506.69,75.36 L507.63,75.96 L508.56,76.51 L509.5,77.01 L510.43,77.46 L511.37,77.86 L512.3,78.21 L513.24,78.5 L514.18,78.74 L515.11,78.93 L516.05,79.09 L516.98,79.22 L517.92,79.34 L518.85,79.45 L519.79,79.56 L520.72,79.68 L521.66,79.82 L522.6,80 L523.53,80.22 L524.47,80.48 L525.4,80.79 L526.34,81.15 L527.27,81.57 L528.21,82.04 L529.14,82.58 L530.08,83.18 L531.01,83.85 L531.95,84.6 L532.89,85.42 L533.82,86.31 L534.76,87.27 L535.69,88.29 L536.63,89.36 L537.56,90.49 L538.5,91.66 L539.43,92.87 L540.37,94.12 L541.3,95.4 L542.24,96.7 L543.18,98.03 L544.11,99.36 L545.05,100.71 L545.98,102.05 L546.92,103.39 L547.85,104.73 L548.79,106.04 L549.72,107.33 L550.66,108.6 L551.6,109.83 L552.53,111.03 L553.47,112.19 L554.4,113.31 L555.34,114.4 L556.27,115.44 L557.21,116.45 L558.14,117.41 L559.08,118.33 L560.01,119.2 L560.95,120.03 L561.89,120.81 L562.82,121.55 L563.76,122.26 L564.69,122.92 L565.63,123.56 L566.56,124.16 L567.5,124.73 L568.43,125.28 L569.37,125.8 L570.31,126.3 L571.24,126.78 L572.18,127.25 L573.11,127.7 L574.05,128.14 L574.98,128.58 L575.92,129.01 L576.85,129.44 L577.79,129.87 L578.73,130.3 L579.66,130.74 L580.6,131.19 L581.53,131.64 L582.47,132.11 L583.4,132.59 L584.34,133.08 L585.27,133.59 L586.21,134.11 L587.14,134.64 L588.08,135.2 L589.02,135.77 L589.95,136.37 L590.89,136.97 L591.82,137.6 L592.76,138.23 L593.69,138.87 L594.63,139.52 L595.56,140.18 L596.5,140.84 L597.43,141.5 L598.37,142.16 L599.31,142.83 L600.24,143.49 L601.18,144.16 L602.11,144.82 L603.05,145.49 L603.98,146.16 L604.92,146.84 L605.85,147.52 L606.79,148.2 L607.73,148.89 L608.66,149.57 L609.6,150.26 L610.53,150.94 L611.47,151.61 L612.4,152.26 L613.34,152.91 L614.27,153.53 L615.21,154.13 L616.14,154.7 L617.08,155.24 L618.02,155.76 L618.95,156.26 L619.89,156.73 L620.82,157.18 L621.76,157.63 L622.69,158.05 L623.63,158.47 L624.56,158.89 L625.5,159.3 L625.5,164.6 L438.4,164.6 Z" fill="#E1121E" fill-opacity="0.4" stroke="none"/>
<path d="M438.4,86.9 L439.34,84.54 L440.27,82.17 L441.21,79.8 L442.14,77.42 L443.08,75.03 L444.01,72.64 L444.95,70.23 L445.88,67.8 L446.82,65.36 L447.75,62.9 L448.69,60.42 L449.63,57.94 L450.56,55.46 L451.5,53.02 L452.43,50.62 L453.37,48.29 L454.3,46.03 L455.24,43.87 L456.17,41.82 L457.11,39.9 L458.05,38.12 L458.98,36.49 L459.92,34.99 L460.85,33.62 L461.79,32.39 L462.72,31.28 L463.66,30.29 L464.59,29.41 L465.53,28.65 L466.46,28 L467.4,27.46 L468.34,27.05 L469.27,26.82 L470.21,26.8 L471.14,27.01 L472.08,27.44 L473.01,28.06 L473.95,28.86 L474.88,29.82 L475.82,30.9 L476.76,32.09 L477.69,33.39 L478.63,34.77 L479.56,36.24 L480.5,37.77 L481.43,39.37 L482.37,41.02 L483.3,42.72 L484.24,44.45 L485.17,46.2 L486.11,47.97 L487.05,49.75 L487.98,51.52 L488.92,53.27 L489.85,55 L490.79,56.69 L491.72,58.34 L492.66,59.93 L493.59,61.45 L494.53,62.9 L495.47,64.26 L496.4,65.54 L497.34,66.74 L498.27,67.86 L499.21,68.91 L500.14,69.9 L501.08,70.83 L502.01,71.7 L502.95,72.53 L503.88,73.3 L504.82,74.03 L505.76,74.72 L506.69,75.36 L507.63,75.96 L508.56,76.51 L509.5,77.01 L510.43,77.46 L511.37,77.86 L512.3,78.21 L513.24,78.5 L514.18,78.74 L515.11,78.93 L516.05,79.09 L516.98,79.22 L517.92,79.34 L518.85,79.45 L519.79,79.56 L520.72,79.68 L521.66,79.82 L522.6,80 L523.53,80.22 L524.47,80.48 L525.4,80.79 L526.34,81.15 L527.27,81.57 L528.21,82.04 L529.14,82.58 L530.08,83.18 L531.01,83.85 L531.95,84.6 L532.89,85.42 L533.82,86.31 L534.76,87.27 L535.69,88.29 L536.63,89.36 L537.56,90.49 L538.5,91.66 L539.43,92.87 L540.37,94.12 L541.3,95.4 L542.24,96.7 L543.18,98.03 L544.11,99.36 L545.05,100.71 L545.98,102.05 L546.92,103.39 L547.85,104.73 L548.79,106.04 L549.72,107.33 L550.66,108.6 L551.6,109.83 L552.53,111.03 L553.47,112.19 L554.4,113.31 L555.34,114.4 L556.27,115.44 L557.21,116.45 L558.14,117.41 L559.08,118.33 L560.01,119.2 L560.95,120.03 L561.89,120.81 L562.82,121.55 L563.76,122.26 L564.69,122.92 L565.63,123.56 L566.56,124.16 L567.5,124.73 L568.43,125.28 L569.37,125.8 L570.31,126.3 L571.24,126.78 L572.18,127.25 L573.11,127.7 L574.05,128.14 L574.98,128.58 L575.92,129.01 L576.85,129.44 L577.79,129.87 L578.73,130.3 L579.66,130.74 L580.6,131.19 L581.53,131.64 L582.47,132.11 L583.4,132.59 L584.34,133.08 L585.27,133.59 L586.21,134.11 L587.14,134.64 L588.08,135.2 L589.02,135.77 L589.95,136.37 L590.89,136.97 L591.82,137.6 L592.76,138.23 L593.69,138.87 L594.63,139.52 L595.56,140.18 L596.5,140.84 L597.43,141.5 L598.37,142.16 L599.31,142.83 L600.24,143.49 L601.18,144.16 L602.11,144.82 L603.05,145.49 L603.98,146.16 L604.92,146.84 L605.85,147.52 L606.79,148.2 L607.73,148.89 L608.66,149.57 L609.6,150.26 L610.53,150.94 L611.47,151.61 L612.4,152.26 L613.34,152.91 L614.27,153.53 L615.21,154.13 L616.14,154.7 L617.08,155.24 L618.02,155.76 L618.95,156.26 L619.89,156.73 L620.82,157.18 L621.76,157.63 L622.69,158.05 L623.63,158.47 L624.56,158.89 L625.5,159.3" fill="none" stroke="#161616" stroke-width="0.95" stroke-linejoin="round"/>
<path d="M438.4,91 L439.34,88.67 L440.27,86.34 L441.21,84 L442.14,81.65 L443.08,79.28 L444.01,76.88 L444.95,74.46 L445.88,72.01 L446.82,69.53 L447.75,67 L448.69,64.43 L449.63,61.84 L450.56,59.25 L451.5,56.67 L452.43,54.12 L453.37,51.63 L454.3,49.21 L455.24,46.89 L456.17,44.68 L457.11,42.6 L458.05,40.67 L458.98,38.89 L459.92,37.26 L460.85,35.76 L461.79,34.4 L462.72,33.18 L463.66,32.08 L464.59,31.1 L465.53,30.24 L466.46,29.5 L467.4,28.87 L468.34,28.39 L469.27,28.09 L470.21,28 L471.14,28.15 L472.08,28.52 L473.01,29.1 L473.95,29.87 L474.88,30.81 L475.82,31.9 L476.76,33.12 L477.69,34.46 L478.63,35.91 L479.56,37.46 L480.5,39.09 L481.43,40.8 L482.37,42.58 L483.3,44.41 L484.24,46.29 L485.17,48.2 L486.11,50.14 L487.05,52.09 L487.98,54.05 L488.92,56 L489.85,57.95 L490.79,59.89 L491.72,61.8 L492.66,63.67 L493.59,65.51 L494.53,67.3 L495.47,69.03 L496.4,70.71 L497.34,72.31 L498.27,73.85 L499.21,75.31 L500.14,76.69 L501.08,77.98 L502.01,79.19 L502.95,80.29 L503.88,81.3 L504.82,82.2 L505.76,83.01 L506.69,83.72 L507.63,84.36 L508.56,84.92 L509.5,85.41 L510.43,85.85 L511.37,86.24 L512.3,86.59 L513.24,86.9 L514.18,87.19 L515.11,87.45 L516.05,87.69 L516.98,87.92 L517.92,88.13 L518.85,88.32 L519.79,88.5 L520.72,88.67 L521.66,88.84 L522.6,89 L523.53,89.16 L524.47,89.32 L525.4,89.5 L526.34,89.71 L527.27,89.95 L528.21,90.24 L529.14,90.57 L530.08,90.97 L531.01,91.45 L531.95,92 L532.89,92.64 L533.82,93.36 L534.76,94.14 L535.69,94.97 L536.63,95.84 L537.56,96.74 L538.5,97.64 L539.43,98.55 L540.37,99.44 L541.3,100.3 L542.24,101.12 L543.18,101.9 L544.11,102.64 L545.05,103.32 L545.98,103.96 L546.92,104.54 L547.85,105.07 L548.79,105.54 L549.72,105.95 L550.66,106.3 L551.6,106.59 L552.53,106.81 L553.47,106.99 L554.4,107.11 L555.34,107.19 L556.27,107.23 L557.21,107.23 L558.14,107.21 L559.08,107.17 L560.01,107.1 L560.95,107.02 L561.89,106.93 L562.82,106.85 L563.76,106.77 L564.69,106.7 L565.63,106.65 L566.56,106.63 L567.5,106.65 L568.43,106.7 L569.37,106.8 L570.31,106.95 L571.24,107.16 L572.18,107.43 L573.11,107.76 L574.05,108.16 L574.98,108.62 L575.92,109.15 L576.85,109.76 L577.79,110.44 L578.73,111.2 L579.66,112.04 L580.6,112.96 L581.53,113.94 L582.47,114.99 L583.4,116.09 L584.34,117.24 L585.27,118.43 L586.21,119.66 L587.14,120.92 L588.08,122.2 L589.02,123.5 L589.95,124.81 L590.89,126.14 L591.82,127.47 L592.76,128.82 L593.69,130.17 L594.63,131.52 L595.56,132.88 L596.5,134.24 L597.43,135.6 L598.37,136.95 L599.31,138.3 L600.24,139.63 L601.18,140.95 L602.11,142.24 L603.05,143.51 L603.98,144.74 L604.92,145.94 L605.85,147.09 L606.79,148.2 L607.73,149.26 L608.66,150.27 L609.6,151.23 L610.53,152.13 L611.47,153 L612.4,153.81 L613.34,154.58 L614.27,155.3 L615.21,155.97 L616.14,156.6 L617.08,157.19 L618.02,157.73 L618.95,158.24 L619.89,158.72 L620.82,159.18 L621.76,159.61 L622.69,160.02 L623.63,160.42 L624.56,160.81 L625.5,161.2 L625.5,164.6 L438.4,164.6 Z" fill="#2B2BFF" fill-opacity="0.42" stroke="none"/>
<path d="M438.4,91 L439.34,88.67 L440.27,86.34 L441.21,84 L442.14,81.65 L443.08,79.28 L444.01,76.88 L444.95,74.46 L445.88,72.01 L446.82,69.53 L447.75,67 L448.69,64.43 L449.63,61.84 L450.56,59.25 L451.5,56.67 L452.43,54.12 L453.37,51.63 L454.3,49.21 L455.24,46.89 L456.17,44.68 L457.11,42.6 L458.05,40.67 L458.98,38.89 L459.92,37.26 L460.85,35.76 L461.79,34.4 L462.72,33.18 L463.66,32.08 L464.59,31.1 L465.53,30.24 L466.46,29.5 L467.4,28.87 L468.34,28.39 L469.27,28.09 L470.21,28 L471.14,28.15 L472.08,28.52 L473.01,29.1 L473.95,29.87 L474.88,30.81 L475.82,31.9 L476.76,33.12 L477.69,34.46 L478.63,35.91 L479.56,37.46 L480.5,39.09 L481.43,40.8 L482.37,42.58 L483.3,44.41 L484.24,46.29 L485.17,48.2 L486.11,50.14 L487.05,52.09 L487.98,54.05 L488.92,56 L489.85,57.95 L490.79,59.89 L491.72,61.8 L492.66,63.67 L493.59,65.51 L494.53,67.3 L495.47,69.03 L496.4,70.71 L497.34,72.31 L498.27,73.85 L499.21,75.31 L500.14,76.69 L501.08,77.98 L502.01,79.19 L502.95,80.29 L503.88,81.3 L504.82,82.2 L505.76,83.01 L506.69,83.72 L507.63,84.36 L508.56,84.92 L509.5,85.41 L510.43,85.85 L511.37,86.24 L512.3,86.59 L513.24,86.9 L514.18,87.19 L515.11,87.45 L516.05,87.69 L516.98,87.92 L517.92,88.13 L518.85,88.32 L519.79,88.5 L520.72,88.67 L521.66,88.84 L522.6,89 L523.53,89.16 L524.47,89.32 L525.4,89.5 L526.34,89.71 L527.27,89.95 L528.21,90.24 L529.14,90.57 L530.08,90.97 L531.01,91.45 L531.95,92 L532.89,92.64 L533.82,93.36 L534.76,94.14 L535.69,94.97 L536.63,95.84 L537.56,96.74 L538.5,97.64 L539.43,98.55 L540.37,99.44 L541.3,100.3 L542.24,101.12 L543.18,101.9 L544.11,102.64 L545.05,103.32 L545.98,103.96 L546.92,104.54 L547.85,105.07 L548.79,105.54 L549.72,105.95 L550.66,106.3 L551.6,106.59 L552.53,106.81 L553.47,106.99 L554.4,107.11 L555.34,107.19 L556.27,107.23 L557.21,107.23 L558.14,107.21 L559.08,107.17 L560.01,107.1 L560.95,107.02 L561.89,106.93 L562.82,106.85 L563.76,106.77 L564.69,106.7 L565.63,106.65 L566.56,106.63 L567.5,106.65 L568.43,106.7 L569.37,106.8 L570.31,106.95 L571.24,107.16 L572.18,107.43 L573.11,107.76 L574.05,108.16 L574.98,108.62 L575.92,109.15 L576.85,109.76 L577.79,110.44 L578.73,111.2 L579.66,112.04 L580.6,112.96 L581.53,113.94 L582.47,114.99 L583.4,116.09 L584.34,117.24 L585.27,118.43 L586.21,119.66 L587.14,120.92 L588.08,122.2 L589.02,123.5 L589.95,124.81 L590.89,126.14 L591.82,127.47 L592.76,128.82 L593.69,130.17 L594.63,131.52 L595.56,132.88 L596.5,134.24 L597.43,135.6 L598.37,136.95 L599.31,138.3 L600.24,139.63 L601.18,140.95 L602.11,142.24 L603.05,143.51 L603.98,144.74 L604.92,145.94 L605.85,147.09 L606.79,148.2 L607.73,149.26 L608.66,150.27 L609.6,151.23 L610.53,152.13 L611.47,153 L612.4,153.81 L613.34,154.58 L614.27,155.3 L615.21,155.97 L616.14,156.6 L617.08,157.19 L618.02,157.73 L618.95,158.24 L619.89,158.72 L620.82,159.18 L621.76,159.61 L622.69,160.02 L623.63,160.42 L624.56,160.81 L625.5,161.2" fill="none" stroke="#161616" stroke-width="0.95" stroke-linejoin="round"/>
<path d="M496.96,20.4V177.4" stroke="#FF0000" stroke-opacity="0.62" stroke-width="1.05" stroke-dasharray="3.3 3.1" fill="none"/>
<path d="M500.48,20.4V177.4" stroke="#0000FF" stroke-opacity="0.62" stroke-width="1.05" stroke-dasharray="3.3 3.1" fill="none"/>
<path d="M496.96,157.3H500.48" stroke="#111" stroke-width="0.9" fill="none"/>
<text class="ds" x="498.72" y="155.1" textLength="42.2" lengthAdjust="spacingAndGlyphs">Dist.: 0.17</text>
<g fill="#FF0000" stroke="#FF0000"><text x="461.54" y="173.5" font-size="9.3px" stroke-width="0.12" textLength="4.3" lengthAdjust="spacingAndGlyphs">x</text><path d="M461.09,167.4h5.2" stroke-width="0.8" fill="none"/><path d="M468.79,170.15h5.1M468.79,171.95h5.1" stroke-width="0.85" fill="none"/><text x="477.69" y="173.5" font-size="10.4px" stroke-width="0.12" textLength="17.35" lengthAdjust="spacingAndGlyphs">4.13</text></g>
<g fill="#0000FF" stroke="#0000FF"><text x="505.23" y="173.5" font-size="9.3px" stroke-width="0.12" textLength="4.3" lengthAdjust="spacingAndGlyphs">x</text><path d="M504.78,167.4h5.2" stroke-width="0.8" fill="none"/><path d="M512.48,170.15h5.1M512.48,171.95h5.1" stroke-width="0.85" fill="none"/><text x="521.38" y="173.5" font-size="10.4px" stroke-width="0.12" textLength="12.4" lengthAdjust="spacingAndGlyphs">4.3</text></g>
</g>
<rect x="429.4" y="20.4" width="205.25" height="157" fill="none" stroke="#787878" stroke-width="1"/>
<path d="M438.4,177.4v2.5M457.11,177.4v2.5M475.82,177.4v2.5M494.53,177.4v2.5M513.24,177.4v2.5M531.95,177.4v2.5M550.66,177.4v2.5M569.37,177.4v2.5M588.08,177.4v2.5M606.79,177.4v2.5M625.5,177.4v2.5" stroke="#333" stroke-width="0.9" fill="none"/>
<text class="tk" x="438.4" y="185.8">1</text>
<text class="tk" x="457.11" y="185.8">2</text>
<text class="tk" x="475.82" y="185.8">3</text>
<text class="tk" x="494.53" y="185.8">4</text>
<text class="tk" x="513.24" y="185.8">5</text>
<text class="tk" x="531.95" y="185.8">6</text>
<text class="tk" x="550.66" y="185.8">7</text>
<text class="tk" x="569.37" y="185.8">8</text>
<text class="tk" x="588.08" y="185.8">9</text>
<text class="tk" x="606.79" y="185.8" textLength="5.6" lengthAdjust="spacingAndGlyphs">10</text>
<text class="tk" x="625.5" y="185.8" textLength="5.6" lengthAdjust="spacingAndGlyphs">11</text>
</g>
<g id="freiheit">
<text class="t" x="1.05" y="206" textLength="108.1" lengthAdjust="spacingAndGlyphs">freiheit ('freedom')</text>
<clipPath id="c_freiheit"><rect x="1.45" y="214.4" width="205.25" height="157.1"/></clipPath>
<g clip-path="url(#c_freiheit)">
<path d="M1.45,344.5H206.7M1.45,314.5H206.7M1.45,284.5H206.7M1.45,254.5H206.7M1.45,224.5H206.7M19.5,214.4V371.5M38.5,214.4V371.5M57.5,214.4V371.5M75.5,214.4V371.5M94.5,214.4V371.5M113.5,214.4V371.5M132.5,214.4V371.5M150.5,214.4V371.5M169.5,214.4V371.5M188.5,214.4V371.5" stroke="#e9e9e9" stroke-width="0.8" fill="none"/>
<path d="M1.45,359.5H206.7M1.45,329.5H206.7M1.45,299.5H206.7M1.45,269.5H206.7M1.45,239.5H206.7M10.5,214.4V371.5M29.5,214.4V371.5M47.5,214.4V371.5M66.5,214.4V371.5M85.5,214.4V371.5M104.5,214.4V371.5M122.5,214.4V371.5M141.5,214.4V371.5M160.5,214.4V371.5M178.5,214.4V371.5M197.5,214.4V371.5" stroke="#bababa" stroke-width="0.8" fill="none"/>
<path d="M10.45,288.3 L11.39,283.57 L12.32,278.85 L13.26,274.15 L14.19,269.46 L15.13,264.8 L16.06,260.19 L17,255.68 L17.93,251.37 L18.87,247.31 L19.8,243.6 L20.74,240.28 L21.68,237.35 L22.61,234.77 L23.55,232.52 L24.48,230.55 L25.42,228.83 L26.35,227.34 L27.29,226.05 L28.22,224.91 L29.16,223.9 L30.1,223 L31.03,222.26 L31.97,221.74 L32.9,221.5 L33.84,221.58 L34.77,221.97 L35.71,222.62 L36.64,223.52 L37.58,224.62 L38.52,225.9 L39.45,227.32 L40.39,228.85 L41.32,230.49 L42.26,232.22 L43.19,234.01 L44.13,235.84 L45.06,237.71 L46,239.59 L46.93,241.46 L47.87,243.3 L48.81,245.1 L49.74,246.87 L50.68,248.61 L51.61,250.32 L52.55,252.01 L53.48,253.69 L54.42,255.36 L55.35,257.03 L56.29,258.71 L57.23,260.4 L58.16,262.1 L59.1,263.82 L60.03,265.53 L60.97,267.23 L61.9,268.91 L62.84,270.57 L63.77,272.18 L64.71,273.75 L65.64,275.26 L66.58,276.7 L67.52,278.07 L68.45,279.37 L69.39,280.6 L70.32,281.78 L71.26,282.91 L72.19,283.99 L73.13,285.04 L74.06,286.05 L75,287.03 L75.94,288 L76.87,288.95 L77.81,289.88 L78.74,290.79 L79.68,291.66 L80.61,292.5 L81.55,293.29 L82.48,294.02 L83.42,294.68 L84.35,295.24 L85.29,295.7 L86.23,296.04 L87.16,296.29 L88.1,296.46 L89.03,296.59 L89.97,296.7 L90.9,296.81 L91.84,296.93 L92.77,297.05 L93.71,297.17 L94.65,297.3 L95.58,297.43 L96.52,297.58 L97.45,297.77 L98.39,298 L99.32,298.3 L100.26,298.69 L101.19,299.18 L102.13,299.78 L103.06,300.51 L104,301.4 L104.94,302.45 L105.87,303.64 L106.81,304.97 L107.74,306.41 L108.68,307.94 L109.61,309.56 L110.55,311.24 L111.48,312.97 L112.42,314.73 L113.36,316.5 L114.29,318.27 L115.23,320.02 L116.16,321.74 L117.1,323.43 L118.03,325.07 L118.97,326.66 L119.9,328.17 L120.84,329.61 L121.77,330.95 L122.71,332.2 L123.65,333.34 L124.58,334.37 L125.52,335.3 L126.45,336.14 L127.39,336.89 L128.32,337.55 L129.26,338.14 L130.19,338.66 L131.13,339.11 L132.06,339.5 L133,339.84 L133.94,340.12 L134.87,340.37 L135.81,340.6 L136.74,340.8 L137.68,340.99 L138.61,341.17 L139.55,341.37 L140.48,341.57 L141.42,341.8 L142.36,342.06 L143.29,342.35 L144.23,342.67 L145.16,343.02 L146.1,343.4 L147.03,343.8 L147.97,344.24 L148.9,344.7 L149.84,345.19 L150.78,345.7 L151.71,346.24 L152.65,346.8 L153.58,347.37 L154.52,347.95 L155.45,348.54 L156.39,349.13 L157.32,349.72 L158.26,350.29 L159.19,350.86 L160.13,351.4 L161.07,351.92 L162,352.42 L162.94,352.89 L163.87,353.34 L164.81,353.77 L165.74,354.18 L166.68,354.56 L167.61,354.93 L168.55,355.27 L169.48,355.6 L170.42,355.91 L171.36,356.19 L172.29,356.46 L173.23,356.72 L174.16,356.95 L175.1,357.17 L176.03,357.38 L176.97,357.57 L177.9,357.74 L178.84,357.9 L179.78,358.05 L180.71,358.18 L181.65,358.3 L182.58,358.42 L183.52,358.52 L184.45,358.61 L185.39,358.69 L186.32,358.77 L187.26,358.84 L188.19,358.9 L189.13,358.96 L190.07,359.01 L191,359.05 L191.94,359.1 L192.87,359.14 L193.81,359.17 L194.74,359.21 L195.68,359.24 L196.61,359.27 L197.55,359.3 L197.55,359.6 L10.45,359.6 Z" fill="#E1121E" fill-opacity="0.4" stroke="none"/>
<path d="M10.45,288.3 L11.39,283.57 L12.32,278.85 L13.26,274.15 L14.19,269.46 L15.13,264.8 L16.06,260.19 L17,255.68 L17.93,251.37 L18.87,247.31 L19.8,243.6 L20.74,240.28 L21.68,237.35 L22.61,234.77 L23.55,232.52 L24.48,230.55 L25.42,228.83 L26.35,227.34 L27.29,226.05 L28.22,224.91 L29.16,223.9 L30.1,223 L31.03,222.26 L31.97,221.74 L32.9,221.5 L33.84,221.58 L34.77,221.97 L35.71,222.62 L36.64,223.52 L37.58,224.62 L38.52,225.9 L39.45,227.32 L40.39,228.85 L41.32,230.49 L42.26,232.22 L43.19,234.01 L44.13,235.84 L45.06,237.71 L46,239.59 L46.93,241.46 L47.87,243.3 L48.81,245.1 L49.74,246.87 L50.68,248.61 L51.61,250.32 L52.55,252.01 L53.48,253.69 L54.42,255.36 L55.35,257.03 L56.29,258.71 L57.23,260.4 L58.16,262.1 L59.1,263.82 L60.03,265.53 L60.97,267.23 L61.9,268.91 L62.84,270.57 L63.77,272.18 L64.71,273.75 L65.64,275.26 L66.58,276.7 L67.52,278.07 L68.45,279.37 L69.39,280.6 L70.32,281.78 L71.26,282.91 L72.19,283.99 L73.13,285.04 L74.06,286.05 L75,287.03 L75.94,288 L76.87,288.95 L77.81,289.88 L78.74,290.79 L79.68,291.66 L80.61,292.5 L81.55,293.29 L82.48,294.02 L83.42,294.68 L84.35,295.24 L85.29,295.7 L86.23,296.04 L87.16,296.29 L88.1,296.46 L89.03,296.59 L89.97,296.7 L90.9,296.81 L91.84,296.93 L92.77,297.05 L93.71,297.17 L94.65,297.3 L95.58,297.43 L96.52,297.58 L97.45,297.77 L98.39,298 L99.32,298.3 L100.26,298.69 L101.19,299.18 L102.13,299.78 L103.06,300.51 L104,301.4 L104.94,302.45 L105.87,303.64 L106.81,304.97 L107.74,306.41 L108.68,307.94 L109.61,309.56 L110.55,311.24 L111.48,312.97 L112.42,314.73 L113.36,316.5 L114.29,318.27 L115.23,320.02 L116.16,321.74 L117.1,323.43 L118.03,325.07 L118.97,326.66 L119.9,328.17 L120.84,329.61 L121.77,330.95 L122.71,332.2 L123.65,333.34 L124.58,334.37 L125.52,335.3 L126.45,336.14 L127.39,336.89 L128.32,337.55 L129.26,338.14 L130.19,338.66 L131.13,339.11 L132.06,339.5 L133,339.84 L133.94,340.12 L134.87,340.37 L135.81,340.6 L136.74,340.8 L137.68,340.99 L138.61,341.17 L139.55,341.37 L140.48,341.57 L141.42,341.8 L142.36,342.06 L143.29,342.35 L144.23,342.67 L145.16,343.02 L146.1,343.4 L147.03,343.8 L147.97,344.24 L148.9,344.7 L149.84,345.19 L150.78,345.7 L151.71,346.24 L152.65,346.8 L153.58,347.37 L154.52,347.95 L155.45,348.54 L156.39,349.13 L157.32,349.72 L158.26,350.29 L159.19,350.86 L160.13,351.4 L161.07,351.92 L162,352.42 L162.94,352.89 L163.87,353.34 L164.81,353.77 L165.74,354.18 L166.68,354.56 L167.61,354.93 L168.55,355.27 L169.48,355.6 L170.42,355.91 L171.36,356.19 L172.29,356.46 L173.23,356.72 L174.16,356.95 L175.1,357.17 L176.03,357.38 L176.97,357.57 L177.9,357.74 L178.84,357.9 L179.78,358.05 L180.71,358.18 L181.65,358.3 L182.58,358.42 L183.52,358.52 L184.45,358.61 L185.39,358.69 L186.32,358.77 L187.26,358.84 L188.19,358.9 L189.13,358.96 L190.07,359.01 L191,359.05 L191.94,359.1 L192.87,359.14 L193.81,359.17 L194.74,359.21 L195.68,359.24 L196.61,359.27 L197.55,359.3" fill="none" stroke="#161616" stroke-width="0.95" stroke-linejoin="round"/>
<path d="M10.45,346.4 L11.39,345.84 L12.32,345.27 L13.26,344.7 L14.19,344.13 L15.13,343.55 L16.06,342.96 L17,342.36 L17.93,341.75 L18.87,341.13 L19.8,340.5 L20.74,339.85 L21.68,339.19 L22.61,338.5 L23.55,337.81 L24.48,337.09 L25.42,336.35 L26.35,335.59 L27.29,334.82 L28.22,334.02 L29.16,333.2 L30.1,332.36 L31.03,331.5 L31.97,330.64 L32.9,329.77 L33.84,328.9 L34.77,328.05 L35.71,327.22 L36.64,326.41 L37.58,325.64 L38.52,324.9 L39.45,324.21 L40.39,323.56 L41.32,322.95 L42.26,322.39 L43.19,321.86 L44.13,321.37 L45.06,320.91 L46,320.48 L46.93,320.07 L47.87,319.7 L48.81,319.35 L49.74,319.02 L50.68,318.72 L51.61,318.44 L52.55,318.18 L53.48,317.95 L54.42,317.73 L55.35,317.53 L56.29,317.36 L57.23,317.2 L58.16,317.06 L59.1,316.93 L60.03,316.82 L60.97,316.7 L61.9,316.59 L62.84,316.48 L63.77,316.36 L64.71,316.22 L65.64,316.07 L66.58,315.9 L67.52,315.7 L68.45,315.48 L69.39,315.22 L70.32,314.94 L71.26,314.62 L72.19,314.26 L73.13,313.86 L74.06,313.42 L75,312.93 L75.94,312.4 L76.87,311.82 L77.81,311.19 L78.74,310.5 L79.68,309.76 L80.61,308.95 L81.55,308.09 L82.48,307.17 L83.42,306.18 L84.35,305.12 L85.29,304 L86.23,302.81 L87.16,301.56 L88.1,300.28 L89.03,298.99 L89.97,297.7 L90.9,296.43 L91.84,295.19 L92.77,293.98 L93.71,292.82 L94.65,291.7 L95.58,290.64 L96.52,289.62 L97.45,288.65 L98.39,287.72 L99.32,286.83 L100.26,285.98 L101.19,285.15 L102.13,284.35 L103.06,283.57 L104,282.8 L104.94,282.05 L105.87,281.31 L106.81,280.58 L107.74,279.86 L108.68,279.14 L109.61,278.44 L110.55,277.75 L111.48,277.06 L112.42,276.38 L113.36,275.7 L114.29,275.03 L115.23,274.35 L116.16,273.65 L117.1,272.92 L118.03,272.15 L118.97,271.33 L119.9,270.45 L120.84,269.49 L121.77,268.44 L122.71,267.3 L123.65,266.05 L124.58,264.71 L125.52,263.3 L126.45,261.83 L127.39,260.31 L128.32,258.77 L129.26,257.23 L130.19,255.69 L131.13,254.17 L132.06,252.7 L133,251.28 L133.94,249.93 L134.87,248.66 L135.81,247.46 L136.74,246.34 L137.68,245.32 L138.61,244.4 L139.55,243.59 L140.48,242.88 L141.42,242.3 L142.36,241.85 L143.29,241.6 L144.23,241.59 L145.16,241.83 L146.1,242.3 L147.03,242.98 L147.97,243.86 L148.9,244.92 L149.84,246.13 L150.78,247.5 L151.71,249 L152.65,250.62 L153.58,252.36 L154.52,254.21 L155.45,256.16 L156.39,258.22 L157.32,260.36 L158.26,262.6 L159.19,264.91 L160.13,267.3 L161.07,269.76 L162,272.28 L162.94,274.85 L163.87,277.48 L164.81,280.16 L165.74,282.88 L166.68,285.64 L167.61,288.44 L168.55,291.26 L169.48,294.1 L170.42,296.96 L171.36,299.83 L172.29,302.69 L173.23,305.54 L174.16,308.36 L175.1,311.15 L176.03,313.89 L176.97,316.57 L177.9,319.17 L178.84,321.7 L179.78,324.14 L180.71,326.48 L181.65,328.72 L182.58,330.87 L183.52,332.92 L184.45,334.86 L185.39,336.71 L186.32,338.45 L187.26,340.08 L188.19,341.6 L189.13,343.01 L190.07,344.33 L191,345.56 L191.94,346.71 L192.87,347.79 L193.81,348.82 L194.74,349.8 L195.68,350.75 L196.61,351.68 L197.55,352.6 L197.55,359.6 L10.45,359.6 Z" fill="#2B2BFF" fill-opacity="0.42" stroke="none"/>
<path d="M10.45,346.4 L11.39,345.84 L12.32,345.27 L13.26,344.7 L14.19,344.13 L15.13,343.55 L16.06,342.96 L17,342.36 L17.93,341.75 L18.87,341.13 L19.8,340.5 L20.74,339.85 L21.68,339.19 L22.61,338.5 L23.55,337.81 L24.48,337.09 L25.42,336.35 L26.35,335.59 L27.29,334.82 L28.22,334.02 L29.16,333.2 L30.1,332.36 L31.03,331.5 L31.97,330.64 L32.9,329.77 L33.84,328.9 L34.77,328.05 L35.71,327.22 L36.64,326.41 L37.58,325.64 L38.52,324.9 L39.45,324.21 L40.39,323.56 L41.32,322.95 L42.26,322.39 L43.19,321.86 L44.13,321.37 L45.06,320.91 L46,320.48 L46.93,320.07 L47.87,319.7 L48.81,319.35 L49.74,319.02 L50.68,318.72 L51.61,318.44 L52.55,318.18 L53.48,317.95 L54.42,317.73 L55.35,317.53 L56.29,317.36 L57.23,317.2 L58.16,317.06 L59.1,316.93 L60.03,316.82 L60.97,316.7 L61.9,316.59 L62.84,316.48 L63.77,316.36 L64.71,316.22 L65.64,316.07 L66.58,315.9 L67.52,315.7 L68.45,315.48 L69.39,315.22 L70.32,314.94 L71.26,314.62 L72.19,314.26 L73.13,313.86 L74.06,313.42 L75,312.93 L75.94,312.4 L76.87,311.82 L77.81,311.19 L78.74,310.5 L79.68,309.76 L80.61,308.95 L81.55,308.09 L82.48,307.17 L83.42,306.18 L84.35,305.12 L85.29,304 L86.23,302.81 L87.16,301.56 L88.1,300.28 L89.03,298.99 L89.97,297.7 L90.9,296.43 L91.84,295.19 L92.77,293.98 L93.71,292.82 L94.65,291.7 L95.58,290.64 L96.52,289.62 L97.45,288.65 L98.39,287.72 L99.32,286.83 L100.26,285.98 L101.19,285.15 L102.13,284.35 L103.06,283.57 L104,282.8 L104.94,282.05 L105.87,281.31 L106.81,280.58 L107.74,279.86 L108.68,279.14 L109.61,278.44 L110.55,277.75 L111.48,277.06 L112.42,276.38 L113.36,275.7 L114.29,275.03 L115.23,274.35 L116.16,273.65 L117.1,272.92 L118.03,272.15 L118.97,271.33 L119.9,270.45 L120.84,269.49 L121.77,268.44 L122.71,267.3 L123.65,266.05 L124.58,264.71 L125.52,263.3 L126.45,261.83 L127.39,260.31 L128.32,258.77 L129.26,257.23 L130.19,255.69 L131.13,254.17 L132.06,252.7 L133,251.28 L133.94,249.93 L134.87,248.66 L135.81,247.46 L136.74,246.34 L137.68,245.32 L138.61,244.4 L139.55,243.59 L140.48,242.88 L141.42,242.3 L142.36,241.85 L143.29,241.6 L144.23,241.59 L145.16,241.83 L146.1,242.3 L147.03,242.98 L147.97,243.86 L148.9,244.92 L149.84,246.13 L150.78,247.5 L151.71,249 L152.65,250.62 L153.58,252.36 L154.52,254.21 L155.45,256.16 L156.39,258.22 L157.32,260.36 L158.26,262.6 L159.19,264.91 L160.13,267.3 L161.07,269.76 L162,272.28 L162.94,274.85 L163.87,277.48 L164.81,280.16 L165.74,282.88 L166.68,285.64 L167.61,288.44 L168.55,291.26 L169.48,294.1 L170.42,296.96 L171.36,299.83 L172.29,302.69 L173.23,305.54 L174.16,308.36 L175.1,311.15 L176.03,313.89 L176.97,316.57 L177.9,319.17 L178.84,321.7 L179.78,324.14 L180.71,326.48 L181.65,328.72 L182.58,330.87 L183.52,332.92 L184.45,334.86 L185.39,336.71 L186.32,338.45 L187.26,340.08 L188.19,341.6 L189.13,343.01 L190.07,344.33 L191,345.56 L191.94,346.71 L192.87,347.79 L193.81,348.82 L194.74,349.8 L195.68,350.75 L196.61,351.68 L197.55,352.6" fill="none" stroke="#161616" stroke-width="0.95" stroke-linejoin="round"/>
<path d="M58.16,214.4V371.5" stroke="#FF0000" stroke-opacity="0.62" stroke-width="1.05" stroke-dasharray="3.3 3.1" fill="none"/>
<path d="M114.48,214.4V371.5" stroke="#0000FF" stroke-opacity="0.62" stroke-width="1.05" stroke-dasharray="3.3 3.1" fill="none"/>
<path d="M58.16,354.5H114.48" stroke="#111" stroke-width="0.9" fill="none"/>
<text class="ds" x="86.32" y="353.4" textLength="42.2" lengthAdjust="spacingAndGlyphs">Dist.: 3.01</text>
<g fill="#FF0000" stroke="#FF0000"><text x="22.74" y="368.05" font-size="9.3px" stroke-width="0.12" textLength="4.3" lengthAdjust="spacingAndGlyphs">x</text><path d="M22.29,361.95h5.2" stroke-width="0.8" fill="none"/><path d="M29.99,364.7h5.1M29.99,366.5h5.1" stroke-width="0.85" fill="none"/><text x="38.89" y="368.05" font-size="10.4px" stroke-width="0.12" textLength="17.35" lengthAdjust="spacingAndGlyphs">3.55</text></g>
<g fill="#0000FF" stroke="#0000FF"><text x="116.75" y="368.05" font-size="9.3px" stroke-width="0.12" textLength="4.3" lengthAdjust="spacingAndGlyphs">x</text><path d="M116.3,361.95h5.2" stroke-width="0.8" fill="none"/><path d="M124,364.7h5.1M124,366.5h5.1" stroke-width="0.85" fill="none"/><text x="132.9" y="368.05" font-size="10.4px" stroke-width="0.12" textLength="17.35" lengthAdjust="spacingAndGlyphs">6.56</text></g>
</g>
<rect x="1.45" y="214.4" width="205.25" height="157.1" fill="none" stroke="#787878" stroke-width="1"/>
<path d="M10.45,371.5v2.5M29.16,371.5v2.5M47.87,371.5v2.5M66.58,371.5v2.5M85.29,371.5v2.5M104,371.5v2.5M122.71,371.5v2.5M141.42,371.5v2.5M160.13,371.5v2.5M178.84,371.5v2.5M197.55,371.5v2.5" stroke="#333" stroke-width="0.9" fill="none"/>
<text class="tk" x="10.45" y="379.9">1</text>
<text class="tk" x="29.16" y="379.9">2</text>
<text class="tk" x="47.87" y="379.9">3</text>
<text class="tk" x="66.58" y="379.9">4</text>
<text class="tk" x="85.29" y="379.9">5</text>
<text class="tk" x="104" y="379.9">6</text>
<text class="tk" x="122.71" y="379.9">7</text>
<text class="tk" x="141.42" y="379.9">8</text>
<text class="tk" x="160.13" y="379.9">9</text>
<text class="tk" x="178.84" y="379.9" textLength="5.6" lengthAdjust="spacingAndGlyphs">10</text>
<text class="tk" x="197.55" y="379.9" textLength="5.6" lengthAdjust="spacingAndGlyphs">11</text>
</g>
<g id="wirtschaft">
<text class="t" x="215.02" y="206" textLength="128.6" lengthAdjust="spacingAndGlyphs">wirtschaft ('economy')</text>
<clipPath id="c_wirtschaft"><rect x="215.42" y="214.4" width="205.25" height="157.1"/></clipPath>
<g clip-path="url(#c_wirtschaft)">
<path d="M215.42,341.5H420.67M215.42,306.5H420.67M215.42,271.5H420.67M215.42,236.5H420.67M233.5,214.4V371.5M252.5,214.4V371.5M271.5,214.4V371.5M289.5,214.4V371.5M308.5,214.4V371.5M327.5,214.4V371.5M346.5,214.4V371.5M364.5,214.4V371.5M383.5,214.4V371.5M402.5,214.4V371.5" stroke="#e9e9e9" stroke-width="0.8" fill="none"/>
<path d="M215.42,359.5H420.67M215.42,324.5H420.67M215.42,289.5H420.67M215.42,253.5H420.67M215.42,218.5H420.67M224.5,214.4V371.5M243.5,214.4V371.5M261.5,214.4V371.5M280.5,214.4V371.5M299.5,214.4V371.5M317.5,214.4V371.5M336.5,214.4V371.5M355.5,214.4V371.5M374.5,214.4V371.5M392.5,214.4V371.5M411.5,214.4V371.5" stroke="#bababa" stroke-width="0.8" fill="none"/>
<path d="M224.42,313.4 L225.36,311.69 L226.29,309.99 L227.23,308.29 L228.16,306.61 L229.1,304.94 L230.03,303.28 L230.97,301.65 L231.9,300.04 L232.84,298.45 L233.77,296.9 L234.71,295.38 L235.65,293.89 L236.58,292.42 L237.52,290.97 L238.45,289.53 L239.39,288.1 L240.32,286.66 L241.26,285.22 L242.19,283.77 L243.13,282.3 L244.07,280.81 L245,279.31 L245.94,277.83 L246.87,276.36 L247.81,274.93 L248.74,273.56 L249.68,272.25 L250.61,271.03 L251.55,269.91 L252.48,268.9 L253.42,268.02 L254.36,267.26 L255.29,266.63 L256.23,266.11 L257.16,265.7 L258.1,265.39 L259.03,265.18 L259.97,265.07 L260.9,265.04 L261.84,265.1 L262.78,265.24 L263.71,265.45 L264.65,265.73 L265.58,266.08 L266.52,266.49 L267.45,266.97 L268.39,267.5 L269.32,268.08 L270.26,268.72 L271.19,269.4 L272.13,270.12 L273.07,270.88 L274,271.64 L274.94,272.41 L275.87,273.17 L276.81,273.9 L277.74,274.6 L278.68,275.24 L279.61,275.81 L280.55,276.3 L281.49,276.7 L282.42,277 L283.36,277.2 L284.29,277.3 L285.23,277.3 L286.16,277.19 L287.1,276.98 L288.03,276.66 L288.97,276.23 L289.9,275.7 L290.84,275.06 L291.78,274.32 L292.71,273.5 L293.65,272.58 L294.58,271.6 L295.52,270.54 L296.45,269.43 L297.39,268.26 L298.32,267.05 L299.26,265.8 L300.2,264.53 L301.13,263.24 L302.07,261.95 L303,260.67 L303.94,259.41 L304.87,258.2 L305.81,257.04 L306.74,255.94 L307.68,254.92 L308.62,254 L309.55,253.18 L310.49,252.47 L311.42,251.88 L312.36,251.4 L313.29,251.04 L314.23,250.81 L315.16,250.7 L316.1,250.73 L317.03,250.92 L317.97,251.3 L318.91,251.89 L319.84,252.68 L320.78,253.65 L321.71,254.8 L322.65,256.1 L323.58,257.54 L324.52,259.1 L325.45,260.78 L326.39,262.55 L327.32,264.4 L328.26,266.31 L329.2,268.27 L330.13,270.26 L331.07,272.26 L332,274.26 L332.94,276.23 L333.87,278.15 L334.81,280.02 L335.74,281.81 L336.68,283.5 L337.62,285.08 L338.55,286.56 L339.49,287.93 L340.42,289.21 L341.36,290.4 L342.29,291.5 L343.23,292.53 L344.16,293.49 L345.1,294.37 L346.03,295.2 L346.97,295.97 L347.91,296.7 L348.84,297.39 L349.78,298.06 L350.71,298.7 L351.65,299.34 L352.58,299.98 L353.52,300.63 L354.45,301.3 L355.39,302 L356.33,302.73 L357.26,303.51 L358.2,304.32 L359.13,305.16 L360.07,306.05 L361,306.97 L361.94,307.92 L362.87,308.91 L363.81,309.94 L364.75,311 L365.68,312.09 L366.62,313.22 L367.55,314.37 L368.49,315.55 L369.42,316.74 L370.36,317.96 L371.29,319.18 L372.23,320.42 L373.16,321.66 L374.1,322.9 L375.04,324.14 L375.97,325.38 L376.91,326.62 L377.84,327.85 L378.78,329.08 L379.71,330.3 L380.65,331.51 L381.58,332.72 L382.52,333.91 L383.45,335.1 L384.39,336.27 L385.33,337.43 L386.26,338.57 L387.2,339.69 L388.13,340.79 L389.07,341.86 L390,342.9 L390.94,343.9 L391.87,344.87 L392.81,345.8 L393.75,346.69 L394.68,347.53 L395.62,348.33 L396.55,349.1 L397.49,349.82 L398.42,350.51 L399.36,351.16 L400.29,351.77 L401.23,352.35 L402.16,352.9 L403.1,353.41 L404.04,353.9 L404.97,354.35 L405.91,354.79 L406.84,355.2 L407.78,355.6 L408.71,355.99 L409.65,356.36 L410.58,356.73 L411.52,357.1 L411.52,359.6 L224.42,359.6 Z" fill="#E1121E" fill-opacity="0.4" stroke="none"/>
<path d="M224.42,313.4 L225.36,311.69 L226.29,309.99 L227.23,308.29 L228.16,306.61 L229.1,304.94 L230.03,303.28 L230.97,301.65 L231.9,300.04 L232.84,298.45 L233.77,296.9 L234.71,295.38 L235.65,293.89 L236.58,292.42 L237.52,290.97 L238.45,289.53 L239.39,288.1 L240.32,286.66 L241.26,285.22 L242.19,283.77 L243.13,282.3 L244.07,280.81 L245,279.31 L245.94,277.83 L246.87,276.36 L247.81,274.93 L248.74,273.56 L249.68,272.25 L250.61,271.03 L251.55,269.91 L252.48,268.9 L253.42,268.02 L254.36,267.26 L255.29,266.63 L256.23,266.11 L257.16,265.7 L258.1,265.39 L259.03,265.18 L259.97,265.07 L260.9,265.04 L261.84,265.1 L262.78,265.24 L263.71,265.45 L264.65,265.73 L265.58,266.08 L266.52,266.49 L267.45,266.97 L268.39,267.5 L269.32,268.08 L270.26,268.72 L271.19,269.4 L272.13,270.12 L273.07,270.88 L274,271.64 L274.94,272.41 L275.87,273.17 L276.81,273.9 L277.74,274.6 L278.68,275.24 L279.61,275.81 L280.55,276.3 L281.49,276.7 L282.42,277 L283.36,277.2 L284.29,277.3 L285.23,277.3 L286.16,277.19 L287.1,276.98 L288.03,276.66 L288.97,276.23 L289.9,275.7 L290.84,275.06 L291.78,274.32 L292.71,273.5 L293.65,272.58 L294.58,271.6 L295.52,270.54 L296.45,269.43 L297.39,268.26 L298.32,267.05 L299.26,265.8 L300.2,264.53 L301.13,263.24 L302.07,261.95 L303,260.67 L303.94,259.41 L304.87,258.2 L305.81,257.04 L306.74,255.94 L307.68,254.92 L308.62,254 L309.55,253.18 L310.49,252.47 L311.42,251.88 L312.36,251.4 L313.29,251.04 L314.23,250.81 L315.16,250.7 L316.1,250.73 L317.03,250.92 L317.97,251.3 L318.91,251.89 L319.84,252.68 L320.78,253.65 L321.71,254.8 L322.65,256.1 L323.58,257.54 L324.52,259.1 L325.45,260.78 L326.39,262.55 L327.32,264.4 L328.26,266.31 L329.2,268.27 L330.13,270.26 L331.07,272.26 L332,274.26 L332.94,276.23 L333.87,278.15 L334.81,280.02 L335.74,281.81 L336.68,283.5 L337.62,285.08 L338.55,286.56 L339.49,287.93 L340.42,289.21 L341.36,290.4 L342.29,291.5 L343.23,292.53 L344.16,293.49 L345.1,294.37 L346.03,295.2 L346.97,295.97 L347.91,296.7 L348.84,297.39 L349.78,298.06 L350.71,298.7 L351.65,299.34 L352.58,299.98 L353.52,300.63 L354.45,301.3 L355.39,302 L356.33,302.73 L357.26,303.51 L358.2,304.32 L359.13,305.16 L360.07,306.05 L361,306.97 L361.94,307.92 L362.87,308.91 L363.81,309.94 L364.75,311 L365.68,312.09 L366.62,313.22 L367.55,314.37 L368.49,315.55 L369.42,316.74 L370.36,317.96 L371.29,319.18 L372.23,320.42 L373.16,321.66 L374.1,322.9 L375.04,324.14 L375.97,325.38 L376.91,326.62 L377.84,327.85 L378.78,329.08 L379.71,330.3 L380.65,331.51 L381.58,332.72 L382.52,333.91 L383.45,335.1 L384.39,336.27 L385.33,337.43 L386.26,338.57 L387.2,339.69 L388.13,340.79 L389.07,341.86 L390,342.9 L390.94,343.9 L391.87,344.87 L392.81,345.8 L393.75,346.69 L394.68,347.53 L395.62,348.33 L396.55,349.1 L397.49,349.82 L398.42,350.51 L399.36,351.16 L400.29,351.77 L401.23,352.35 L402.16,352.9 L403.1,353.41 L404.04,353.9 L404.97,354.35 L405.91,354.79 L406.84,355.2 L407.78,355.6 L408.71,355.99 L409.65,356.36 L410.58,356.73 L411.52,357.1" fill="none" stroke="#161616" stroke-width="0.95" stroke-linejoin="round"/>
<path d="M224.42,298.4 L225.36,294.68 L226.29,290.98 L227.23,287.28 L228.16,283.6 L229.1,279.95 L230.03,276.33 L230.97,272.75 L231.9,269.21 L232.84,265.73 L233.77,262.3 L234.71,258.94 L235.65,255.65 L236.58,252.46 L237.52,249.38 L238.45,246.41 L239.39,243.58 L240.32,240.9 L241.26,238.39 L242.19,236.05 L243.13,233.9 L244.07,231.96 L245,230.21 L245.94,228.64 L246.87,227.26 L247.81,226.03 L248.74,224.96 L249.68,224.03 L250.61,223.24 L251.55,222.56 L252.48,222 L253.42,221.54 L254.36,221.21 L255.29,221.02 L256.23,221 L257.16,221.16 L258.1,221.5 L259.03,222.02 L259.97,222.69 L260.9,223.52 L261.84,224.5 L262.78,225.61 L263.71,226.84 L264.65,228.17 L265.58,229.6 L266.52,231.09 L267.45,232.64 L268.39,234.24 L269.32,235.85 L270.26,237.48 L271.19,239.1 L272.13,240.7 L273.07,242.28 L274,243.85 L274.94,245.41 L275.87,246.96 L276.81,248.51 L277.74,250.07 L278.68,251.63 L279.61,253.21 L280.55,254.8 L281.49,256.41 L282.42,258.04 L283.36,259.67 L284.29,261.3 L285.23,262.91 L286.16,264.51 L287.1,266.07 L288.03,267.6 L288.97,269.08 L289.9,270.5 L290.84,271.86 L291.78,273.17 L292.71,274.42 L293.65,275.61 L294.58,276.77 L295.52,277.88 L296.45,278.95 L297.39,279.99 L298.32,281.01 L299.26,282 L300.2,282.97 L301.13,283.92 L302.07,284.86 L303,285.78 L303.94,286.68 L304.87,287.57 L305.81,288.45 L306.74,289.31 L307.68,290.16 L308.62,291 L309.55,291.83 L310.49,292.65 L311.42,293.47 L312.36,294.3 L313.29,295.12 L314.23,295.96 L315.16,296.82 L316.1,297.69 L317.03,298.58 L317.97,299.5 L318.91,300.45 L319.84,301.43 L320.78,302.43 L321.71,303.45 L322.65,304.48 L323.58,305.53 L324.52,306.59 L325.45,307.66 L326.39,308.73 L327.32,309.8 L328.26,310.86 L329.2,311.92 L330.13,312.95 L331.07,313.96 L332,314.93 L332.94,315.86 L333.87,316.74 L334.81,317.56 L335.74,318.32 L336.68,319 L337.62,319.61 L338.55,320.14 L339.49,320.59 L340.42,320.99 L341.36,321.32 L342.29,321.59 L343.23,321.81 L344.16,321.98 L345.1,322.11 L346.03,322.2 L346.97,322.26 L347.91,322.28 L348.84,322.27 L349.78,322.24 L350.71,322.18 L351.65,322.1 L352.58,322 L353.52,321.88 L354.45,321.75 L355.39,321.6 L356.33,321.44 L357.26,321.28 L358.2,321.12 L359.13,320.97 L360.07,320.84 L361,320.72 L361.94,320.63 L362.87,320.58 L363.81,320.57 L364.75,320.6 L365.68,320.69 L366.62,320.83 L367.55,321.04 L368.49,321.32 L369.42,321.68 L370.36,322.11 L371.29,322.64 L372.23,323.26 L373.16,323.98 L374.1,324.8 L375.04,325.73 L375.97,326.76 L376.91,327.87 L377.84,329.04 L378.78,330.27 L379.71,331.54 L380.65,332.83 L381.58,334.13 L382.52,335.43 L383.45,336.7 L384.39,337.94 L385.33,339.15 L386.26,340.32 L387.2,341.45 L388.13,342.55 L389.07,343.6 L390,344.61 L390.94,345.59 L391.87,346.51 L392.81,347.4 L393.75,348.24 L394.68,349.04 L395.62,349.79 L396.55,350.5 L397.49,351.17 L398.42,351.8 L399.36,352.38 L400.29,352.93 L401.23,353.43 L402.16,353.9 L403.1,354.33 L404.04,354.72 L404.97,355.09 L405.91,355.43 L406.84,355.74 L407.78,356.03 L408.71,356.31 L409.65,356.58 L410.58,356.84 L411.52,357.1 L411.52,359.6 L224.42,359.6 Z" fill="#2B2BFF" fill-opacity="0.42" stroke="none"/>
<path d="M224.42,298.4 L225.36,294.68 L226.29,290.98 L227.23,287.28 L228.16,283.6 L229.1,279.95 L230.03,276.33 L230.97,272.75 L231.9,269.21 L232.84,265.73 L233.77,262.3 L234.71,258.94 L235.65,255.65 L236.58,252.46 L237.52,249.38 L238.45,246.41 L239.39,243.58 L240.32,240.9 L241.26,238.39 L242.19,236.05 L243.13,233.9 L244.07,231.96 L245,230.21 L245.94,228.64 L246.87,227.26 L247.81,226.03 L248.74,224.96 L249.68,224.03 L250.61,223.24 L251.55,222.56 L252.48,222 L253.42,221.54 L254.36,221.21 L255.29,221.02 L256.23,221 L257.16,221.16 L258.1,221.5 L259.03,222.02 L259.97,222.69 L260.9,223.52 L261.84,224.5 L262.78,225.61 L263.71,226.84 L264.65,228.17 L265.58,229.6 L266.52,231.09 L267.45,232.64 L268.39,234.24 L269.32,235.85 L270.26,237.48 L271.19,239.1 L272.13,240.7 L273.07,242.28 L274,243.85 L274.94,245.41 L275.87,246.96 L276.81,248.51 L277.74,250.07 L278.68,251.63 L279.61,253.21 L280.55,254.8 L281.49,256.41 L282.42,258.04 L283.36,259.67 L284.29,261.3 L285.23,262.91 L286.16,264.51 L287.1,266.07 L288.03,267.6 L288.97,269.08 L289.9,270.5 L290.84,271.86 L291.78,273.17 L292.71,274.42 L293.65,275.61 L294.58,276.77 L295.52,277.88 L296.45,278.95 L297.39,279.99 L298.32,281.01 L299.26,282 L300.2,282.97 L301.13,283.92 L302.07,284.86 L303,285.78 L303.94,286.68 L304.87,287.57 L305.81,288.45 L306.74,289.31 L307.68,290.16 L308.62,291 L309.55,291.83 L310.49,292.65 L311.42,293.47 L312.36,294.3 L313.29,295.12 L314.23,295.96 L315.16,296.82 L316.1,297.69 L317.03,298.58 L317.97,299.5 L318.91,300.45 L319.84,301.43 L320.78,302.43 L321.71,303.45 L322.65,304.48 L323.58,305.53 L324.52,306.59 L325.45,307.66 L326.39,308.73 L327.32,309.8 L328.26,310.86 L329.2,311.92 L330.13,312.95 L331.07,313.96 L332,314.93 L332.94,315.86 L333.87,316.74 L334.81,317.56 L335.74,318.32 L336.68,319 L337.62,319.61 L338.55,320.14 L339.49,320.59 L340.42,320.99 L341.36,321.32 L342.29,321.59 L343.23,321.81 L344.16,321.98 L345.1,322.11 L346.03,322.2 L346.97,322.26 L347.91,322.28 L348.84,322.27 L349.78,322.24 L350.71,322.18 L351.65,322.1 L352.58,322 L353.52,321.88 L354.45,321.75 L355.39,321.6 L356.33,321.44 L357.26,321.28 L358.2,321.12 L359.13,320.97 L360.07,320.84 L361,320.72 L361.94,320.63 L362.87,320.58 L363.81,320.57 L364.75,320.6 L365.68,320.69 L366.62,320.83 L367.55,321.04 L368.49,321.32 L369.42,321.68 L370.36,322.11 L371.29,322.64 L372.23,323.26 L373.16,323.98 L374.1,324.8 L375.04,325.73 L375.97,326.76 L376.91,327.87 L377.84,329.04 L378.78,330.27 L379.71,331.54 L380.65,332.83 L381.58,334.13 L382.52,335.43 L383.45,336.7 L384.39,337.94 L385.33,339.15 L386.26,340.32 L387.2,341.45 L388.13,342.55 L389.07,343.6 L390,344.61 L390.94,345.59 L391.87,346.51 L392.81,347.4 L393.75,348.24 L394.68,349.04 L395.62,349.79 L396.55,350.5 L397.49,351.17 L398.42,351.8 L399.36,352.38 L400.29,352.93 L401.23,353.43 L402.16,353.9 L403.1,354.33 L404.04,354.72 L404.97,355.09 L405.91,355.43 L406.84,355.74 L407.78,356.03 L408.71,356.31 L409.65,356.58 L410.58,356.84 L411.52,357.1" fill="none" stroke="#161616" stroke-width="0.95" stroke-linejoin="round"/>
<path d="M295.89,214.4V371.5" stroke="#FF0000" stroke-opacity="0.62" stroke-width="1.05" stroke-dasharray="3.3 3.1" fill="none"/>
<path d="M283.73,214.4V371.5" stroke="#0000FF" stroke-opacity="0.62" stroke-width="1.05" stroke-dasharray="3.3 3.1" fill="none"/>
<path d="M283.73,352.8H295.89" stroke="#111" stroke-width="0.9" fill="none"/>
<text class="ds" x="289.81" y="350.8" textLength="42.2" lengthAdjust="spacingAndGlyphs">Dist.: 0.65</text>
<g fill="#0000FF" stroke="#0000FF"><text x="248.31" y="368.05" font-size="9.3px" stroke-width="0.12" textLength="4.3" lengthAdjust="spacingAndGlyphs">x</text><path d="M247.86,361.95h5.2" stroke-width="0.8" fill="none"/><path d="M255.56,364.7h5.1M255.56,366.5h5.1" stroke-width="0.85" fill="none"/><text x="264.46" y="368.05" font-size="10.4px" stroke-width="0.12" textLength="17.35" lengthAdjust="spacingAndGlyphs">4.17</text></g>
<g fill="#FF0000" stroke="#FF0000"><text x="298.17" y="368.05" font-size="9.3px" stroke-width="0.12" textLength="4.3" lengthAdjust="spacingAndGlyphs">x</text><path d="M297.72,361.95h5.2" stroke-width="0.8" fill="none"/><path d="M305.42,364.7h5.1M305.42,366.5h5.1" stroke-width="0.85" fill="none"/><text x="314.32" y="368.05" font-size="10.4px" stroke-width="0.12" textLength="17.35" lengthAdjust="spacingAndGlyphs">4.82</text></g>
</g>
<rect x="215.42" y="214.4" width="205.25" height="157.1" fill="none" stroke="#787878" stroke-width="1"/>
<path d="M224.42,371.5v2.5M243.13,371.5v2.5M261.84,371.5v2.5M280.55,371.5v2.5M299.26,371.5v2.5M317.97,371.5v2.5M336.68,371.5v2.5M355.39,371.5v2.5M374.1,371.5v2.5M392.81,371.5v2.5M411.52,371.5v2.5" stroke="#333" stroke-width="0.9" fill="none"/>
<text class="tk" x="224.42" y="379.9">1</text>
<text class="tk" x="243.13" y="379.9">2</text>
<text class="tk" x="261.84" y="379.9">3</text>
<text class="tk" x="280.55" y="379.9">4</text>
<text class="tk" x="299.26" y="379.9">5</text>
<text class="tk" x="317.97" y="379.9">6</text>
<text class="tk" x="336.68" y="379.9">7</text>
<text class="tk" x="355.39" y="379.9">8</text>
<text class="tk" x="374.1" y="379.9">9</text>
<text class="tk" x="392.81" y="379.9" textLength="5.6" lengthAdjust="spacingAndGlyphs">10</text>
<text class="tk" x="411.52" y="379.9" textLength="5.6" lengthAdjust="spacingAndGlyphs">11</text>
</g>
<g id="verantwortung">
<text class="t" x="429" y="206" textLength="181.7" lengthAdjust="spacingAndGlyphs">verantwortung ('responsibility')</text>
<clipPath id="c_verantwortung"><rect x="429.4" y="214.4" width="205.25" height="157.1"/></clipPath>
<g clip-path="url(#c_verantwortung)">
<path d="M429.4,334.5H634.65M429.4,284.5H634.65M429.4,234.5H634.65M447.5,214.4V371.5M466.5,214.4V371.5M485.5,214.4V371.5M503.5,214.4V371.5M522.5,214.4V371.5M541.5,214.4V371.5M560.5,214.4V371.5M578.5,214.4V371.5M597.5,214.4V371.5M616.5,214.4V371.5" stroke="#e9e9e9" stroke-width="0.8" fill="none"/>
<path d="M429.4,359.5H634.65M429.4,309.5H634.65M429.4,259.5H634.65M438.5,214.4V371.5M457.5,214.4V371.5M475.5,214.4V371.5M494.5,214.4V371.5M513.5,214.4V371.5M531.5,214.4V371.5M550.5,214.4V371.5M569.5,214.4V371.5M588.5,214.4V371.5M606.5,214.4V371.5M625.5,214.4V371.5" stroke="#bababa" stroke-width="0.8" fill="none"/>
<path d="M438.4,331.1 L439.34,329.97 L440.27,328.83 L441.21,327.68 L442.14,326.51 L443.08,325.32 L444.01,324.1 L444.95,322.84 L445.88,321.55 L446.82,320.2 L447.75,318.8 L448.69,317.34 L449.63,315.83 L450.56,314.28 L451.5,312.68 L452.43,311.05 L453.37,309.39 L454.3,307.71 L455.24,306.01 L456.17,304.31 L457.11,302.6 L458.05,300.9 L458.98,299.2 L459.92,297.51 L460.85,295.84 L461.79,294.19 L462.72,292.56 L463.66,290.95 L464.59,289.37 L465.53,287.82 L466.46,286.3 L467.4,284.82 L468.34,283.39 L469.27,282 L470.21,280.68 L471.14,279.41 L472.08,278.21 L473.01,277.08 L473.95,276.03 L474.88,275.07 L475.82,274.2 L476.76,273.42 L477.69,272.74 L478.63,272.16 L479.56,271.66 L480.5,271.25 L481.43,270.94 L482.37,270.7 L483.3,270.55 L484.24,270.49 L485.17,270.5 L486.11,270.59 L487.05,270.76 L487.98,271.01 L488.92,271.33 L489.85,271.72 L490.79,272.19 L491.72,272.74 L492.66,273.35 L493.59,274.04 L494.53,274.8 L495.47,275.63 L496.4,276.51 L497.34,277.44 L498.27,278.4 L499.21,279.39 L500.14,280.38 L501.08,281.37 L502.01,282.35 L502.95,283.29 L503.88,284.2 L504.82,285.06 L505.76,285.87 L506.69,286.64 L507.63,287.37 L508.56,288.07 L509.5,288.75 L510.43,289.4 L511.37,290.04 L512.3,290.67 L513.24,291.3 L514.18,291.93 L515.11,292.55 L516.05,293.18 L516.98,293.8 L517.92,294.43 L518.85,295.05 L519.79,295.67 L520.72,296.28 L521.66,296.89 L522.6,297.5 L523.53,298.1 L524.47,298.71 L525.4,299.32 L526.34,299.95 L527.27,300.6 L528.21,301.28 L529.14,301.98 L530.08,302.71 L531.01,303.45 L531.95,304.2 L532.89,304.96 L533.82,305.72 L534.76,306.5 L535.69,307.29 L536.63,308.09 L537.56,308.91 L538.5,309.75 L539.43,310.61 L540.37,311.49 L541.3,312.4 L542.24,313.33 L543.18,314.29 L544.11,315.25 L545.05,316.22 L545.98,317.19 L546.92,318.14 L547.85,319.08 L548.79,319.99 L549.72,320.86 L550.66,321.7 L551.6,322.49 L552.53,323.23 L553.47,323.92 L554.4,324.57 L555.34,325.18 L556.27,325.74 L557.21,326.26 L558.14,326.75 L559.08,327.19 L560.01,327.6 L560.95,327.97 L561.89,328.31 L562.82,328.62 L563.76,328.9 L564.69,329.15 L565.63,329.38 L566.56,329.59 L567.5,329.77 L568.43,329.94 L569.37,330.1 L570.31,330.24 L571.24,330.38 L572.18,330.51 L573.11,330.65 L574.05,330.79 L574.98,330.95 L575.92,331.12 L576.85,331.32 L577.79,331.54 L578.73,331.8 L579.66,332.09 L580.6,332.42 L581.53,332.79 L582.47,333.19 L583.4,333.64 L584.34,334.11 L585.27,334.63 L586.21,335.18 L587.14,335.77 L588.08,336.4 L589.02,337.06 L589.95,337.76 L590.89,338.47 L591.82,339.21 L592.76,339.96 L593.69,340.72 L594.63,341.48 L595.56,342.23 L596.5,342.97 L597.43,343.7 L598.37,344.4 L599.31,345.09 L600.24,345.75 L601.18,346.39 L602.11,347.01 L603.05,347.62 L603.98,348.21 L604.92,348.79 L605.85,349.35 L606.79,349.9 L607.73,350.44 L608.66,350.96 L609.6,351.48 L610.53,351.98 L611.47,352.47 L612.4,352.94 L613.34,353.4 L614.27,353.85 L615.21,354.28 L616.14,354.7 L617.08,355.1 L618.02,355.49 L618.95,355.87 L619.89,356.24 L620.82,356.59 L621.76,356.94 L622.69,357.29 L623.63,357.63 L624.56,357.96 L625.5,358.3 L625.5,359.6 L438.4,359.6 Z" fill="#E1121E" fill-opacity="0.4" stroke="none"/>
<path d="M438.4,331.1 L439.34,329.97 L440.27,328.83 L441.21,327.68 L442.14,326.51 L443.08,325.32 L444.01,324.1 L444.95,322.84 L445.88,321.55 L446.82,320.2 L447.75,318.8 L448.69,317.34 L449.63,315.83 L450.56,314.28 L451.5,312.68 L452.43,311.05 L453.37,309.39 L454.3,307.71 L455.24,306.01 L456.17,304.31 L457.11,302.6 L458.05,300.9 L458.98,299.2 L459.92,297.51 L460.85,295.84 L461.79,294.19 L462.72,292.56 L463.66,290.95 L464.59,289.37 L465.53,287.82 L466.46,286.3 L467.4,284.82 L468.34,283.39 L469.27,282 L470.21,280.68 L471.14,279.41 L472.08,278.21 L473.01,277.08 L473.95,276.03 L474.88,275.07 L475.82,274.2 L476.76,273.42 L477.69,272.74 L478.63,272.16 L479.56,271.66 L480.5,271.25 L481.43,270.94 L482.37,270.7 L483.3,270.55 L484.24,270.49 L485.17,270.5 L486.11,270.59 L487.05,270.76 L487.98,271.01 L488.92,271.33 L489.85,271.72 L490.79,272.19 L491.72,272.74 L492.66,273.35 L493.59,274.04 L494.53,274.8 L495.47,275.63 L496.4,276.51 L497.34,277.44 L498.27,278.4 L499.21,279.39 L500.14,280.38 L501.08,281.37 L502.01,282.35 L502.95,283.29 L503.88,284.2 L504.82,285.06 L505.76,285.87 L506.69,286.64 L507.63,287.37 L508.56,288.07 L509.5,288.75 L510.43,289.4 L511.37,290.04 L512.3,290.67 L513.24,291.3 L514.18,291.93 L515.11,292.55 L516.05,293.18 L516.98,293.8 L517.92,294.43 L518.85,295.05 L519.79,295.67 L520.72,296.28 L521.66,296.89 L522.6,297.5 L523.53,298.1 L524.47,298.71 L525.4,299.32 L526.34,299.95 L527.27,300.6 L528.21,301.28 L529.14,301.98 L530.08,302.71 L531.01,303.45 L531.95,304.2 L532.89,304.96 L533.82,305.72 L534.76,306.5 L535.69,307.29 L536.63,308.09 L537.56,308.91 L538.5,309.75 L539.43,310.61 L540.37,311.49 L541.3,312.4 L542.24,313.33 L543.18,314.29 L544.11,315.25 L545.05,316.22 L545.98,317.19 L546.92,318.14 L547.85,319.08 L548.79,319.99 L549.72,320.86 L550.66,321.7 L551.6,322.49 L552.53,323.23 L553.47,323.92 L554.4,324.57 L555.34,325.18 L556.27,325.74 L557.21,326.26 L558.14,326.75 L559.08,327.19 L560.01,327.6 L560.95,327.97 L561.89,328.31 L562.82,328.62 L563.76,328.9 L564.69,329.15 L565.63,329.38 L566.56,329.59 L567.5,329.77 L568.43,329.94 L569.37,330.1 L570.31,330.24 L571.24,330.38 L572.18,330.51 L573.11,330.65 L574.05,330.79 L574.98,330.95 L575.92,331.12 L576.85,331.32 L577.79,331.54 L578.73,331.8 L579.66,332.09 L580.6,332.42 L581.53,332.79 L582.47,333.19 L583.4,333.64 L584.34,334.11 L585.27,334.63 L586.21,335.18 L587.14,335.77 L588.08,336.4 L589.02,337.06 L589.95,337.76 L590.89,338.47 L591.82,339.21 L592.76,339.96 L593.69,340.72 L594.63,341.48 L595.56,342.23 L596.5,342.97 L597.43,343.7 L598.37,344.4 L599.31,345.09 L600.24,345.75 L601.18,346.39 L602.11,347.01 L603.05,347.62 L603.98,348.21 L604.92,348.79 L605.85,349.35 L606.79,349.9 L607.73,350.44 L608.66,350.96 L609.6,351.48 L610.53,351.98 L611.47,352.47 L612.4,352.94 L613.34,353.4 L614.27,353.85 L615.21,354.28 L616.14,354.7 L617.08,355.1 L618.02,355.49 L618.95,355.87 L619.89,356.24 L620.82,356.59 L621.76,356.94 L622.69,357.29 L623.63,357.63 L624.56,357.96 L625.5,358.3" fill="none" stroke="#161616" stroke-width="0.95" stroke-linejoin="round"/>
<path d="M438.4,355.4 L439.34,354.69 L440.27,353.98 L441.21,353.28 L442.14,352.57 L443.08,351.86 L444.01,351.15 L444.95,350.44 L445.88,349.73 L446.82,349.01 L447.75,348.3 L448.69,347.59 L449.63,346.87 L450.56,346.17 L451.5,345.47 L452.43,344.8 L453.37,344.14 L454.3,343.51 L455.24,342.9 L456.17,342.33 L457.11,341.8 L458.05,341.31 L458.98,340.86 L459.92,340.46 L460.85,340.12 L461.79,339.83 L462.72,339.59 L463.66,339.42 L464.59,339.31 L465.53,339.27 L466.46,339.3 L467.4,339.4 L468.34,339.58 L469.27,339.82 L470.21,340.13 L471.14,340.51 L472.08,340.95 L473.01,341.45 L473.95,342.01 L474.88,342.63 L475.82,343.3 L476.76,344.02 L477.69,344.79 L478.63,345.59 L479.56,346.4 L480.5,347.24 L481.43,348.07 L482.37,348.89 L483.3,349.69 L484.24,350.47 L485.17,351.2 L486.11,351.89 L487.05,352.52 L487.98,353.12 L488.92,353.66 L489.85,354.17 L490.79,354.64 L491.72,355.08 L492.66,355.48 L493.59,355.86 L494.53,356.2 L495.47,356.51 L496.4,356.78 L497.34,356.98 L498.27,357.1 L499.21,357.1 L500.14,356.98 L501.08,356.73 L502.01,356.37 L502.95,355.89 L503.88,355.3 L504.82,354.61 L505.76,353.81 L506.69,352.89 L507.63,351.84 L508.56,350.65 L509.5,349.31 L510.43,347.81 L511.37,346.15 L512.3,344.32 L513.24,342.3 L514.18,340.09 L515.11,337.72 L516.05,335.19 L516.98,332.55 L517.92,329.81 L518.85,327 L519.79,324.14 L520.72,321.25 L521.66,318.36 L522.6,315.5 L523.53,312.67 L524.47,309.85 L525.4,306.97 L526.34,304.01 L527.27,300.9 L528.21,297.63 L529.14,294.29 L530.08,291 L531.01,287.86 L531.95,285 L532.89,282.51 L533.82,280.36 L534.76,278.52 L535.69,276.94 L536.63,275.57 L537.56,274.37 L538.5,273.3 L539.43,272.31 L540.37,271.36 L541.3,270.4 L542.24,269.39 L543.18,268.33 L544.11,267.2 L545.05,266 L545.98,264.72 L546.92,263.35 L547.85,261.89 L548.79,260.34 L549.72,258.67 L550.66,256.9 L551.6,255.01 L552.53,253.02 L553.47,250.96 L554.4,248.83 L555.34,246.67 L556.27,244.49 L557.21,242.31 L558.14,240.16 L559.08,238.05 L560.01,236 L560.95,234.03 L561.89,232.16 L562.82,230.4 L563.76,228.74 L564.69,227.22 L565.63,225.82 L566.56,224.57 L567.5,223.48 L568.43,222.55 L569.37,221.8 L570.31,221.25 L571.24,221 L572.18,221.14 L573.11,221.65 L574.05,222.51 L574.98,223.68 L575.92,225.13 L576.85,226.82 L577.79,228.72 L578.73,230.8 L579.66,233.03 L580.6,235.4 L581.53,237.94 L582.47,240.65 L583.4,243.54 L584.34,246.61 L585.27,249.89 L586.21,253.37 L587.14,257.07 L588.08,261 L589.02,265.15 L589.95,269.46 L590.89,273.84 L591.82,278.24 L592.76,282.56 L593.69,286.72 L594.63,290.66 L595.56,294.3 L596.5,297.62 L597.43,300.9 L598.37,304.4 L599.31,308.14 L600.24,312.03 L601.18,316.02 L602.11,320.05 L603.05,324.04 L603.98,327.94 L604.92,331.68 L605.85,335.18 L606.79,338.4 L607.73,341.27 L608.66,343.83 L609.6,346.09 L610.53,348.11 L611.47,349.9 L612.4,351.51 L613.34,352.94 L614.27,354.19 L615.21,355.28 L616.14,356.2 L617.08,356.96 L618.02,357.59 L618.95,358.08 L619.89,358.46 L620.82,358.75 L621.76,358.95 L622.69,359.1 L623.63,359.19 L624.56,359.25 L625.5,359.3 L625.5,359.6 L438.4,359.6 Z" fill="#2B2BFF" fill-opacity="0.42" stroke="none"/>
<path d="M438.4,355.4 L439.34,354.69 L440.27,353.98 L441.21,353.28 L442.14,352.57 L443.08,351.86 L444.01,351.15 L444.95,350.44 L445.88,349.73 L446.82,349.01 L447.75,348.3 L448.69,347.59 L449.63,346.87 L450.56,346.17 L451.5,345.47 L452.43,344.8 L453.37,344.14 L454.3,343.51 L455.24,342.9 L456.17,342.33 L457.11,341.8 L458.05,341.31 L458.98,340.86 L459.92,340.46 L460.85,340.12 L461.79,339.83 L462.72,339.59 L463.66,339.42 L464.59,339.31 L465.53,339.27 L466.46,339.3 L467.4,339.4 L468.34,339.58 L469.27,339.82 L470.21,340.13 L471.14,340.51 L472.08,340.95 L473.01,341.45 L473.95,342.01 L474.88,342.63 L475.82,343.3 L476.76,344.02 L477.69,344.79 L478.63,345.59 L479.56,346.4 L480.5,347.24 L481.43,348.07 L482.37,348.89 L483.3,349.69 L484.24,350.47 L485.17,351.2 L486.11,351.89 L487.05,352.52 L487.98,353.12 L488.92,353.66 L489.85,354.17 L490.79,354.64 L491.72,355.08 L492.66,355.48 L493.59,355.86 L494.53,356.2 L495.47,356.51 L496.4,356.78 L497.34,356.98 L498.27,357.1 L499.21,357.1 L500.14,356.98 L501.08,356.73 L502.01,356.37 L502.95,355.89 L503.88,355.3 L504.82,354.61 L505.76,353.81 L506.69,352.89 L507.63,351.84 L508.56,350.65 L509.5,349.31 L510.43,347.81 L511.37,346.15 L512.3,344.32 L513.24,342.3 L514.18,340.09 L515.11,337.72 L516.05,335.19 L516.98,332.55 L517.92,329.81 L518.85,327 L519.79,324.14 L520.72,321.25 L521.66,318.36 L522.6,315.5 L523.53,312.67 L524.47,309.85 L525.4,306.97 L526.34,304.01 L527.27,300.9 L528.21,297.63 L529.14,294.29 L530.08,291 L531.01,287.86 L531.95,285 L532.89,282.51 L533.82,280.36 L534.76,278.52 L535.69,276.94 L536.63,275.57 L537.56,274.37 L538.5,273.3 L539.43,272.31 L540.37,271.36 L541.3,270.4 L542.24,269.39 L543.18,268.33 L544.11,267.2 L545.05,266 L545.98,264.72 L546.92,263.35 L547.85,261.89 L548.79,260.34 L549.72,258.67 L550.66,256.9 L551.6,255.01 L552.53,253.02 L553.47,250.96 L554.4,248.83 L555.34,246.67 L556.27,244.49 L557.21,242.31 L558.14,240.16 L559.08,238.05 L560.01,236 L560.95,234.03 L561.89,232.16 L562.82,230.4 L563.76,228.74 L564.69,227.22 L565.63,225.82 L566.56,224.57 L567.5,223.48 L568.43,222.55 L569.37,221.8 L570.31,221.25 L571.24,221 L572.18,221.14 L573.11,221.65 L574.05,222.51 L574.98,223.68 L575.92,225.13 L576.85,226.82 L577.79,228.72 L578.73,230.8 L579.66,233.03 L580.6,235.4 L581.53,237.94 L582.47,240.65 L583.4,243.54 L584.34,246.61 L585.27,249.89 L586.21,253.37 L587.14,257.07 L588.08,261 L589.02,265.15 L589.95,269.46 L590.89,273.84 L591.82,278.24 L592.76,282.56 L593.69,286.72 L594.63,290.66 L595.56,294.3 L596.5,297.62 L597.43,300.9 L598.37,304.4 L599.31,308.14 L600.24,312.03 L601.18,316.02 L602.11,320.05 L603.05,324.04 L603.98,327.94 L604.92,331.68 L605.85,335.18 L606.79,338.4 L607.73,341.27 L608.66,343.83 L609.6,346.09 L610.53,348.11 L611.47,349.9 L612.4,351.51 L613.34,352.94 L614.27,354.19 L615.21,355.28 L616.14,356.2 L617.08,356.96 L618.02,357.59 L618.95,358.08 L619.89,358.46 L620.82,358.75 L621.76,358.95 L622.69,359.1 L623.63,359.19 L624.56,359.25 L625.5,359.3" fill="none" stroke="#161616" stroke-width="0.95" stroke-linejoin="round"/>
<path d="M505.76,214.4V371.5" stroke="#FF0000" stroke-opacity="0.62" stroke-width="1.05" stroke-dasharray="3.3 3.1" fill="none"/>
<path d="M554.03,214.4V371.5" stroke="#0000FF" stroke-opacity="0.62" stroke-width="1.05" stroke-dasharray="3.3 3.1" fill="none"/>
<path d="M505.76,357.1H554.03" stroke="#111" stroke-width="0.9" fill="none"/>
<text class="ds" x="529.89" y="355.9" textLength="42.2" lengthAdjust="spacingAndGlyphs">Dist.: 2.58</text>
<g fill="#FF0000" stroke="#FF0000"><text x="472.81" y="368.05" font-size="9.3px" stroke-width="0.12" textLength="4.3" lengthAdjust="spacingAndGlyphs">x</text><path d="M472.36,361.95h5.2" stroke-width="0.8" fill="none"/><path d="M480.06,364.7h5.1M480.06,366.5h5.1" stroke-width="0.85" fill="none"/><text x="488.96" y="368.05" font-size="10.4px" stroke-width="0.12" textLength="12.4" lengthAdjust="spacingAndGlyphs">4.6</text></g>
<g fill="#0000FF" stroke="#0000FF"><text x="556.3" y="368.05" font-size="9.3px" stroke-width="0.12" textLength="4.3" lengthAdjust="spacingAndGlyphs">x</text><path d="M555.85,361.95h5.2" stroke-width="0.8" fill="none"/><path d="M563.55,364.7h5.1M563.55,366.5h5.1" stroke-width="0.85" fill="none"/><text x="572.45" y="368.05" font-size="10.4px" stroke-width="0.12" textLength="17.35" lengthAdjust="spacingAndGlyphs">7.18</text></g>
</g>
<rect x="429.4" y="214.4" width="205.25" height="157.1" fill="none" stroke="#787878" stroke-width="1"/>
<path d="M438.4,371.5v2.5M457.11,371.5v2.5M475.82,371.5v2.5M494.53,371.5v2.5M513.24,371.5v2.5M531.95,371.5v2.5M550.66,371.5v2.5M569.37,371.5v2.5M588.08,371.5v2.5M606.79,371.5v2.5M625.5,371.5v2.5" stroke="#333" stroke-width="0.9" fill="none"/>
<text class="tk" x="438.4" y="379.9">1</text>
<text class="tk" x="457.11" y="379.9">2</text>
<text class="tk" x="475.82" y="379.9">3</text>
<text class="tk" x="494.53" y="379.9">4</text>
<text class="tk" x="513.24" y="379.9">5</text>
<text class="tk" x="531.95" y="379.9">6</text>
<text class="tk" x="550.66" y="379.9">7</text>
<text class="tk" x="569.37" y="379.9">8</text>
<text class="tk" x="588.08" y="379.9">9</text>
<text class="tk" x="606.79" y="379.9" textLength="5.6" lengthAdjust="spacingAndGlyphs">10</text>
<text class="tk" x="625.5" y="379.9" textLength="5.6" lengthAdjust="spacingAndGlyphs">11</text>
</g>
<text x="318" y="389.9" font-size="8px" fill="#1a1a1a" text-anchor="middle" textLength="82.2" lengthAdjust="spacingAndGlyphs">Left-Right Self-Placement</text>
<g id="legend">
<text x="647.6" y="179.3" font-size="8.2px" fill="#1a1a1a" textLength="36.2" lengthAdjust="spacingAndGlyphs">Association</text>
<text x="647.6" y="187.9" font-size="8.2px" fill="#1a1a1a" textLength="15.6" lengthAdjust="spacingAndGlyphs">with:</text>
<rect x="647.4" y="194" width="12.3" height="12.4" fill="#E1121E" fill-opacity="0.4" stroke="#222" stroke-width="1"/>
<rect x="647.4" y="206.4" width="12.3" height="12.5" fill="#2B2BFF" fill-opacity="0.42" stroke="#222" stroke-width="1"/>
<text x="664.7" y="202.4" font-size="7.6px" fill="#1a1a1a" textLength="10.3" lengthAdjust="spacingAndGlyphs">Left</text>
<text x="664.7" y="215.3" font-size="7.6px" fill="#1a1a1a" textLength="14.8" lengthAdjust="spacingAndGlyphs">Right</text>
</g>
</svg></body></html>
